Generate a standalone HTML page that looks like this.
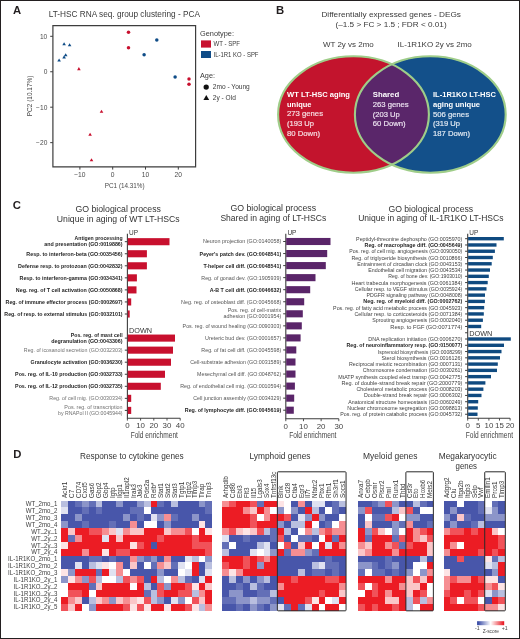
<!DOCTYPE html>
<html><head><meta charset="utf-8"><title>Figure</title>
<style>
html,body{margin:0;padding:0;background:#fff;}
svg{display:block;will-change:transform;}
svg text{font-family:"Liberation Sans", sans-serif;}
</style></head>
<body>
<svg width="520" height="639" viewBox="0 0 520 639" fill="#3a3a3a">
<rect x="0.5" y="0.5" width="519" height="638" fill="#fff" stroke="#231f20" stroke-width="1"/>
<text x="12.90" y="14.20" font-size="11.3" font-weight="bold" fill="#231f20">A</text>
<text x="276.10" y="13.70" font-size="11.3" font-weight="bold" fill="#231f20">B</text>
<text x="12.80" y="209.40" font-size="11.3" font-weight="bold" fill="#231f20">C</text>
<text x="13.20" y="458.20" font-size="11.3" font-weight="bold" fill="#231f20">D</text>
<text x="48.70" y="16.90" font-size="8.2" textLength="151.30" lengthAdjust="spacingAndGlyphs">LT-HSC RNA seq. group clustering - PCA</text>
<path d="M52.9 25.7 H195.6 V166.9 H52.9 Z" fill="none" stroke="#3d3d3d" stroke-width="1.2"/>
<line x1="50.2" y1="36.30" x2="52.9" y2="36.30" stroke="#3d3d3d" stroke-width="1"/>
<text x="47.30" y="38.70" font-size="6.6" text-anchor="end" fill="#4a4a4a" transform-origin="0 0">10</text>
<line x1="50.2" y1="71.75" x2="52.9" y2="71.75" stroke="#3d3d3d" stroke-width="1"/>
<text x="47.30" y="74.15" font-size="6.6" text-anchor="end" fill="#4a4a4a" transform-origin="0 0">0</text>
<line x1="50.2" y1="107.20" x2="52.9" y2="107.20" stroke="#3d3d3d" stroke-width="1"/>
<text x="47.30" y="109.60" font-size="6.6" text-anchor="end" fill="#4a4a4a" transform-origin="0 0">−10</text>
<line x1="50.2" y1="142.65" x2="52.9" y2="142.65" stroke="#3d3d3d" stroke-width="1"/>
<text x="47.30" y="145.05" font-size="6.6" text-anchor="end" fill="#4a4a4a" transform-origin="0 0">−20</text>
<line x1="79.90" y1="166.9" x2="79.90" y2="169.6" stroke="#3d3d3d" stroke-width="1"/>
<text x="79.90" y="177.20" font-size="6.7" text-anchor="middle" fill="#4a4a4a">−10</text>
<line x1="112.70" y1="166.9" x2="112.70" y2="169.6" stroke="#3d3d3d" stroke-width="1"/>
<text x="112.70" y="177.20" font-size="6.7" text-anchor="middle" fill="#4a4a4a">0</text>
<line x1="145.50" y1="166.9" x2="145.50" y2="169.6" stroke="#3d3d3d" stroke-width="1"/>
<text x="145.50" y="177.20" font-size="6.7" text-anchor="middle" fill="#4a4a4a">10</text>
<line x1="178.30" y1="166.9" x2="178.30" y2="169.6" stroke="#3d3d3d" stroke-width="1"/>
<text x="178.30" y="177.20" font-size="6.7" text-anchor="middle" fill="#4a4a4a">20</text>
<text x="124.70" y="187.70" font-size="7.1" text-anchor="middle" fill="#4a4a4a" textLength="39.80" lengthAdjust="spacingAndGlyphs">PC1 (14.31%)</text>
<text x="0" y="0" font-size="7.1" fill="#4a4a4a" text-anchor="middle" textLength="40.6" lengthAdjust="spacingAndGlyphs" transform="translate(32.2 95.9) rotate(-90)">PC2 (10.17%)</text>
<path d="M62.30 45.27 L65.90 45.27 L64.10 42.13 Z" fill="#0f4c87"/>
<path d="M67.80 46.27 L71.40 46.27 L69.60 43.13 Z" fill="#0f4c87"/>
<path d="M63.90 56.37 L67.50 56.37 L65.70 53.23 Z" fill="#0f4c87"/>
<path d="M62.30 58.47 L65.90 58.47 L64.10 55.33 Z" fill="#0f4c87"/>
<path d="M57.30 61.57 L60.90 61.57 L59.10 58.43 Z" fill="#0f4c87"/>
<path d="M77.10 70.17 L80.70 70.17 L78.90 67.03 Z" fill="#c8102e"/>
<path d="M99.70 112.77 L103.30 112.77 L101.50 109.63 Z" fill="#c8102e"/>
<path d="M88.30 135.77 L91.90 135.77 L90.10 132.63 Z" fill="#c8102e"/>
<path d="M89.70 161.37 L93.30 161.37 L91.50 158.23 Z" fill="#c8102e"/>
<circle cx="128.50" cy="32.20" r="1.75" fill="#c8102e"/>
<circle cx="128.50" cy="47.70" r="1.75" fill="#c8102e"/>
<circle cx="189.00" cy="78.90" r="1.75" fill="#c8102e"/>
<circle cx="189.00" cy="84.20" r="1.75" fill="#c8102e"/>
<circle cx="156.80" cy="39.90" r="1.75" fill="#0f4c87"/>
<circle cx="144.10" cy="54.80" r="1.75" fill="#0f4c87"/>
<circle cx="175.10" cy="77.00" r="1.75" fill="#0f4c87"/>
<text x="200.00" y="35.60" font-size="6.6" textLength="34.00" lengthAdjust="spacingAndGlyphs">Genotype:</text>
<rect x="201.0" y="40.4" width="10" height="7.2" fill="#c8102e"/>
<rect x="201.0" y="51.0" width="10" height="7.0" fill="#0f4c87"/>
<text x="213.50" y="46.30" font-size="6.3" textLength="26.50" lengthAdjust="spacingAndGlyphs">WT - SPF</text>
<text x="213.50" y="57.00" font-size="6.3" textLength="45.00" lengthAdjust="spacingAndGlyphs">IL-1R1 KO - SPF</text>
<text x="200.00" y="78.40" font-size="6.6" textLength="15.00" lengthAdjust="spacingAndGlyphs">Age:</text>
<circle cx="206.2" cy="87.1" r="2.65" fill="#111"/>
<text x="212.80" y="88.80" font-size="6.3" textLength="37.00" lengthAdjust="spacingAndGlyphs">2mo - Young</text>
<path d="M203.40 99.92 L209.20 99.92 L206.30 94.88 Z" fill="#111"/>
<text x="212.80" y="99.60" font-size="6.3" textLength="23.00" lengthAdjust="spacingAndGlyphs">2y - Old</text>
<text x="321.40" y="17.20" font-size="7.7" textLength="139.60" lengthAdjust="spacingAndGlyphs">Differentially expressed genes - DEGs</text>
<text x="335.50" y="26.80" font-size="7.7" textLength="111.10" lengthAdjust="spacingAndGlyphs">(–1.5 &gt; FC &gt; 1.5 ; FDR &lt; 0.01)</text>
<text x="323.00" y="47.20" font-size="7.7" textLength="50.70" lengthAdjust="spacingAndGlyphs">WT 2y vs 2mo</text>
<text x="397.60" y="47.20" font-size="7.7" textLength="74.20" lengthAdjust="spacingAndGlyphs">IL-1R1KO 2y vs 2mo</text>
<defs><clipPath id="cr"><ellipse cx="353.5" cy="114.5" rx="75.4" ry="58.2" /></clipPath></defs>
<ellipse cx="353.5" cy="114.5" rx="75.4" ry="58.2" fill="#c3142d"/>
<ellipse cx="430.3" cy="114.5" rx="75.4" ry="58.2" fill="#13508a"/>
<ellipse cx="430.3" cy="114.5" rx="75.4" ry="58.2" fill="#5a266a" clip-path="url(#cr)"/>
<ellipse cx="353.5" cy="114.5" rx="75.4" ry="58.2" fill="none" stroke="#9fcd89" stroke-width="2.1"/>
<ellipse cx="430.3" cy="114.5" rx="75.4" ry="58.2" fill="none" stroke="#9fcd89" stroke-width="2.1"/>
<text x="287.00" y="96.90" font-size="7.9" font-weight="bold" fill="#fff" textLength="63.00" lengthAdjust="spacingAndGlyphs">WT LT-HSC aging</text>
<text x="287.00" y="107.10" font-size="7.9" font-weight="bold" fill="#fff" textLength="24.50" lengthAdjust="spacingAndGlyphs">unique</text>
<text x="287.00" y="116.40" font-size="7.9" fill="#f7e0e4" textLength="36.00" lengthAdjust="spacingAndGlyphs" stroke="#f7e0e4" stroke-width="0.18">273 genes</text>
<text x="287.00" y="126.20" font-size="7.9" fill="#f7e0e4" textLength="27.00" lengthAdjust="spacingAndGlyphs" stroke="#f7e0e4" stroke-width="0.18">(193 Up</text>
<text x="287.00" y="135.60" font-size="7.9" fill="#f7e0e4" textLength="33.00" lengthAdjust="spacingAndGlyphs" stroke="#f7e0e4" stroke-width="0.18">80 Down)</text>
<text x="372.70" y="96.70" font-size="7.9" font-weight="bold" fill="#fff" textLength="26.50" lengthAdjust="spacingAndGlyphs">Shared</text>
<text x="372.70" y="107.10" font-size="7.9" fill="#ece2f0" textLength="36.00" lengthAdjust="spacingAndGlyphs" stroke="#ece2f0" stroke-width="0.18">263 genes</text>
<text x="372.70" y="116.60" font-size="7.9" fill="#ece2f0" textLength="27.00" lengthAdjust="spacingAndGlyphs" stroke="#ece2f0" stroke-width="0.18">(203 Up</text>
<text x="372.70" y="126.00" font-size="7.9" fill="#ece2f0" textLength="33.00" lengthAdjust="spacingAndGlyphs" stroke="#ece2f0" stroke-width="0.18">60 Down)</text>
<text x="433.00" y="96.90" font-size="7.9" font-weight="bold" fill="#fff" textLength="63.00" lengthAdjust="spacingAndGlyphs">IL-1R1KO LT-HSC</text>
<text x="433.00" y="106.80" font-size="7.9" font-weight="bold" fill="#fff" textLength="47.00" lengthAdjust="spacingAndGlyphs">aging unique</text>
<text x="433.00" y="116.50" font-size="7.9" fill="#e2eaf3" textLength="36.00" lengthAdjust="spacingAndGlyphs" stroke="#e2eaf3" stroke-width="0.18">506 genes</text>
<text x="433.00" y="126.20" font-size="7.9" fill="#e2eaf3" textLength="27.00" lengthAdjust="spacingAndGlyphs" stroke="#e2eaf3" stroke-width="0.18">(319 Up</text>
<text x="433.00" y="135.80" font-size="7.9" fill="#e2eaf3" textLength="37.00" lengthAdjust="spacingAndGlyphs" stroke="#e2eaf3" stroke-width="0.18">187 Down)</text>
<text x="118.20" y="211.60" font-size="8.2" text-anchor="middle" fill="#333" textLength="85.60" lengthAdjust="spacingAndGlyphs">GO biological process</text>
<text x="118.20" y="222.00" font-size="8.2" text-anchor="middle" fill="#333" textLength="122.80" lengthAdjust="spacingAndGlyphs">Unique in aging of WT LT-HSCs</text>
<text x="273.30" y="211.00" font-size="8.2" text-anchor="middle" fill="#333" textLength="85.70" lengthAdjust="spacingAndGlyphs">GO biological process</text>
<text x="273.30" y="221.30" font-size="8.2" text-anchor="middle" fill="#333" textLength="105.80" lengthAdjust="spacingAndGlyphs">Shared in aging of LT-HSCs</text>
<text x="430.80" y="211.60" font-size="8.2" text-anchor="middle" fill="#333" textLength="84.80" lengthAdjust="spacingAndGlyphs">GO biological process</text>
<text x="430.80" y="221.30" font-size="8.2" text-anchor="middle" fill="#333" textLength="145.30" lengthAdjust="spacingAndGlyphs">Unique in aging of IL-1R1KO LT-HSCs</text>
<line x1="127.40" y1="233.80" x2="127.40" y2="418.20" stroke="#3d3d3d" stroke-width="1.1"/>
<line x1="126.90" y1="418.20" x2="180.20" y2="418.20" stroke="#3d3d3d" stroke-width="1.1"/>
<line x1="127.40" y1="418.20" x2="127.40" y2="420.60" stroke="#3d3d3d" stroke-width="0.9"/>
<line x1="140.60" y1="418.20" x2="140.60" y2="420.60" stroke="#3d3d3d" stroke-width="0.9"/>
<line x1="153.80" y1="418.20" x2="153.80" y2="420.60" stroke="#3d3d3d" stroke-width="0.9"/>
<line x1="167.00" y1="418.20" x2="167.00" y2="420.60" stroke="#3d3d3d" stroke-width="0.9"/>
<line x1="180.20" y1="418.20" x2="180.20" y2="420.60" stroke="#3d3d3d" stroke-width="0.9"/>
<text x="127.40" y="428.40" font-size="7.9" text-anchor="middle" fill="#444">0</text>
<text x="140.60" y="428.40" font-size="7.9" text-anchor="middle" fill="#444">10</text>
<text x="153.80" y="428.40" font-size="7.9" text-anchor="middle" fill="#444">20</text>
<text x="167.00" y="428.40" font-size="7.9" text-anchor="middle" fill="#444">30</text>
<text x="180.20" y="428.40" font-size="7.9" text-anchor="middle" fill="#444">40</text>
<text x="154.30" y="438.10" font-size="8.5" text-anchor="middle" fill="#444" textLength="47.20" lengthAdjust="spacingAndGlyphs">Fold enrichment</text>
<text x="129.00" y="235.20" font-size="7.0" fill="#333" textLength="9.00" lengthAdjust="spacingAndGlyphs">UP</text>
<text x="129.00" y="332.60" font-size="7.2" fill="#333" textLength="23.00" lengthAdjust="spacingAndGlyphs">DOWN</text>
<line x1="124.80" y1="241.70" x2="127.40" y2="241.70" stroke="#3d3d3d" stroke-width="1.0"/>
<rect x="127.80" y="238.15" width="41.70" height="7.10" fill="#c8102e"/>
<text x="122.60" y="240.22" font-size="5.6" text-anchor="end" font-weight="bold" fill="#1e1e1e" textLength="48.00" lengthAdjust="spacingAndGlyphs">Antigen processing</text>
<text x="122.60" y="246.22" font-size="5.6" text-anchor="end" font-weight="bold" fill="#1e1e1e" textLength="78.25" lengthAdjust="spacingAndGlyphs">and presentation (GO:0019886)</text>
<line x1="124.80" y1="253.75" x2="127.40" y2="253.75" stroke="#3d3d3d" stroke-width="1.0"/>
<rect x="127.80" y="250.20" width="19.10" height="7.10" fill="#c8102e"/>
<text x="122.60" y="255.72" font-size="5.6" text-anchor="end" font-weight="bold" fill="#1e1e1e" textLength="96.25" lengthAdjust="spacingAndGlyphs">Resp. to interferon-beta (GO:0035456)</text>
<line x1="124.80" y1="265.80" x2="127.40" y2="265.80" stroke="#3d3d3d" stroke-width="1.0"/>
<rect x="127.80" y="262.25" width="19.10" height="7.10" fill="#c8102e"/>
<text x="122.60" y="267.77" font-size="5.6" text-anchor="end" font-weight="bold" fill="#1e1e1e" textLength="104.50" lengthAdjust="spacingAndGlyphs">Defense resp. to protozoan (GO:0042832)</text>
<line x1="124.80" y1="277.85" x2="127.40" y2="277.85" stroke="#3d3d3d" stroke-width="1.0"/>
<rect x="127.80" y="274.30" width="9.10" height="7.10" fill="#c8102e"/>
<text x="122.60" y="279.82" font-size="5.6" text-anchor="end" font-weight="bold" fill="#1e1e1e" textLength="103.00" lengthAdjust="spacingAndGlyphs">Resp. to interferon-gamma (GO:0034341)</text>
<line x1="124.80" y1="289.90" x2="127.40" y2="289.90" stroke="#3d3d3d" stroke-width="1.0"/>
<rect x="127.80" y="286.35" width="8.70" height="7.10" fill="#c8102e"/>
<text x="122.60" y="291.87" font-size="5.6" text-anchor="end" font-weight="bold" fill="#1e1e1e" textLength="106.75" lengthAdjust="spacingAndGlyphs">Neg. reg. of T cell activation (GO:0050868)</text>
<line x1="124.80" y1="301.95" x2="127.40" y2="301.95" stroke="#3d3d3d" stroke-width="1.0"/>
<rect x="127.80" y="298.40" width="3.40" height="7.10" fill="#c8102e"/>
<text x="122.60" y="303.92" font-size="5.6" text-anchor="end" font-weight="bold" fill="#1e1e1e" textLength="117.00" lengthAdjust="spacingAndGlyphs">Reg. of immune effector process (GO:0002697)</text>
<line x1="124.80" y1="314.00" x2="127.40" y2="314.00" stroke="#3d3d3d" stroke-width="1.0"/>
<rect x="127.80" y="310.45" width="1.90" height="7.10" fill="#c8102e"/>
<text x="122.60" y="315.97" font-size="5.6" text-anchor="end" font-weight="bold" fill="#1e1e1e" textLength="118.25" lengthAdjust="spacingAndGlyphs">Reg. of resp. to external stimulus (GO:0032101)</text>
<line x1="124.80" y1="338.10" x2="127.40" y2="338.10" stroke="#3d3d3d" stroke-width="1.0"/>
<rect x="127.80" y="334.55" width="47.20" height="7.10" fill="#c8102e"/>
<text x="122.60" y="336.62" font-size="5.6" text-anchor="end" font-weight="bold" fill="#1e1e1e" textLength="51.75" lengthAdjust="spacingAndGlyphs">Pos. reg. of mast cell</text>
<text x="122.60" y="342.62" font-size="5.6" text-anchor="end" font-weight="bold" fill="#1e1e1e" textLength="71.25" lengthAdjust="spacingAndGlyphs">degranulation (GO:0043306)</text>
<line x1="124.80" y1="350.15" x2="127.40" y2="350.15" stroke="#3d3d3d" stroke-width="1.0"/>
<rect x="127.80" y="346.60" width="45.20" height="7.10" fill="#c8102e"/>
<text x="122.60" y="352.12" font-size="5.6" text-anchor="end" fill="#707070" textLength="98.75" lengthAdjust="spacingAndGlyphs">Reg. of icosanoid secretion (GO:0032303)</text>
<line x1="124.80" y1="362.20" x2="127.40" y2="362.20" stroke="#3d3d3d" stroke-width="1.0"/>
<rect x="127.80" y="358.65" width="43.20" height="7.10" fill="#c8102e"/>
<text x="122.60" y="364.17" font-size="5.6" text-anchor="end" font-weight="bold" fill="#1e1e1e" textLength="92.00" lengthAdjust="spacingAndGlyphs">Granulocyte activation (GO:0036230)</text>
<line x1="124.80" y1="374.25" x2="127.40" y2="374.25" stroke="#3d3d3d" stroke-width="1.0"/>
<rect x="127.80" y="370.70" width="37.20" height="7.10" fill="#c8102e"/>
<text x="122.60" y="376.22" font-size="5.6" text-anchor="end" font-weight="bold" fill="#1e1e1e" textLength="107.50" lengthAdjust="spacingAndGlyphs">Pos. reg. of IL-10 production (GO:0032733)</text>
<line x1="124.80" y1="386.30" x2="127.40" y2="386.30" stroke="#3d3d3d" stroke-width="1.0"/>
<rect x="127.80" y="382.75" width="33.00" height="7.10" fill="#c8102e"/>
<text x="122.60" y="388.27" font-size="5.6" text-anchor="end" font-weight="bold" fill="#1e1e1e" textLength="107.50" lengthAdjust="spacingAndGlyphs">Pos. reg. of IL-12 production (GO:0032735)</text>
<line x1="124.80" y1="398.35" x2="127.40" y2="398.35" stroke="#3d3d3d" stroke-width="1.0"/>
<rect x="127.80" y="394.80" width="3.40" height="7.10" fill="#c8102e"/>
<text x="122.60" y="400.32" font-size="5.6" text-anchor="end" fill="#707070" textLength="73.25" lengthAdjust="spacingAndGlyphs">Reg. of cell mig. (GO:0030334)</text>
<line x1="124.80" y1="410.40" x2="127.40" y2="410.40" stroke="#3d3d3d" stroke-width="1.0"/>
<rect x="127.80" y="406.85" width="3.40" height="7.10" fill="#c8102e"/>
<text x="122.60" y="408.92" font-size="5.6" text-anchor="end" fill="#707070" textLength="58.25" lengthAdjust="spacingAndGlyphs">Pos. reg. of transcription</text>
<text x="122.60" y="414.92" font-size="5.6" text-anchor="end" fill="#707070" textLength="64.50" lengthAdjust="spacingAndGlyphs">by RNAPol II (GO:0045944)</text>
<line x1="285.80" y1="233.80" x2="285.80" y2="418.80" stroke="#3d3d3d" stroke-width="1.1"/>
<line x1="285.30" y1="418.80" x2="338.81" y2="418.80" stroke="#3d3d3d" stroke-width="1.1"/>
<line x1="285.80" y1="418.80" x2="285.80" y2="421.20" stroke="#3d3d3d" stroke-width="0.9"/>
<line x1="303.47" y1="418.80" x2="303.47" y2="421.20" stroke="#3d3d3d" stroke-width="0.9"/>
<line x1="321.14" y1="418.80" x2="321.14" y2="421.20" stroke="#3d3d3d" stroke-width="0.9"/>
<line x1="338.81" y1="418.80" x2="338.81" y2="421.20" stroke="#3d3d3d" stroke-width="0.9"/>
<text x="285.80" y="429.00" font-size="7.9" text-anchor="middle" fill="#444">0</text>
<text x="303.47" y="429.00" font-size="7.9" text-anchor="middle" fill="#444">10</text>
<text x="321.14" y="429.00" font-size="7.9" text-anchor="middle" fill="#444">20</text>
<text x="338.81" y="429.00" font-size="7.9" text-anchor="middle" fill="#444">30</text>
<text x="312.81" y="438.10" font-size="8.5" text-anchor="middle" fill="#444" textLength="47.20" lengthAdjust="spacingAndGlyphs">Fold enrichment</text>
<text x="287.40" y="235.20" font-size="7.0" fill="#333" textLength="9.00" lengthAdjust="spacingAndGlyphs">UP</text>
<line x1="283.20" y1="241.50" x2="285.80" y2="241.50" stroke="#3d3d3d" stroke-width="1.0"/>
<rect x="286.20" y="237.95" width="44.30" height="7.10" fill="#5a2569"/>
<text x="281.20" y="243.47" font-size="5.6" text-anchor="end" fill="#555555" textLength="78.30" lengthAdjust="spacingAndGlyphs">Neuron projection (GO:0140058)</text>
<line x1="283.20" y1="253.55" x2="285.80" y2="253.55" stroke="#3d3d3d" stroke-width="1.0"/>
<rect x="286.20" y="250.00" width="41.00" height="7.10" fill="#5a2569"/>
<text x="281.20" y="255.52" font-size="5.6" text-anchor="end" font-weight="bold" fill="#1e1e1e" textLength="81.60" lengthAdjust="spacingAndGlyphs">Peyer's patch dev. (GO:0048541)</text>
<line x1="283.20" y1="265.60" x2="285.80" y2="265.60" stroke="#3d3d3d" stroke-width="1.0"/>
<rect x="286.20" y="262.05" width="39.60" height="7.10" fill="#5a2569"/>
<text x="281.20" y="267.57" font-size="5.6" text-anchor="end" font-weight="bold" fill="#1e1e1e" textLength="77.80" lengthAdjust="spacingAndGlyphs">T-helper cell diff. (GO:0048541)</text>
<line x1="283.20" y1="277.65" x2="285.80" y2="277.65" stroke="#3d3d3d" stroke-width="1.0"/>
<rect x="286.20" y="274.10" width="29.30" height="7.10" fill="#5a2569"/>
<text x="281.20" y="279.62" font-size="5.6" text-anchor="end" fill="#555555" textLength="79.90" lengthAdjust="spacingAndGlyphs">Reg. of gonad dev. (GO:1905939)</text>
<line x1="283.20" y1="289.70" x2="285.80" y2="289.70" stroke="#3d3d3d" stroke-width="1.0"/>
<rect x="286.20" y="286.15" width="24.00" height="7.10" fill="#5a2569"/>
<text x="281.20" y="291.67" font-size="5.6" text-anchor="end" font-weight="bold" fill="#1e1e1e" textLength="71.50" lengthAdjust="spacingAndGlyphs">A-B T cell diff. (GO:0046632)</text>
<line x1="283.20" y1="301.75" x2="285.80" y2="301.75" stroke="#3d3d3d" stroke-width="1.0"/>
<rect x="286.20" y="298.20" width="18.00" height="7.10" fill="#5a2569"/>
<text x="281.20" y="303.72" font-size="5.6" text-anchor="end" fill="#555555" textLength="100.10" lengthAdjust="spacingAndGlyphs">Neg. reg. of osteoblast diff. (GO:0045668)</text>
<line x1="283.20" y1="313.80" x2="285.80" y2="313.80" stroke="#3d3d3d" stroke-width="1.0"/>
<rect x="286.20" y="310.25" width="16.60" height="7.10" fill="#5a2569"/>
<text x="281.20" y="312.32" font-size="5.6" text-anchor="end" fill="#555555" textLength="53.50" lengthAdjust="spacingAndGlyphs">Pos. reg. of cell-matrix</text>
<text x="281.20" y="318.32" font-size="5.6" text-anchor="end" fill="#555555" textLength="57.70" lengthAdjust="spacingAndGlyphs">adhesion (GO:0001954)</text>
<line x1="283.20" y1="325.85" x2="285.80" y2="325.85" stroke="#3d3d3d" stroke-width="1.0"/>
<rect x="286.20" y="322.30" width="15.60" height="7.10" fill="#5a2569"/>
<text x="281.20" y="327.82" font-size="5.6" text-anchor="end" fill="#555555" textLength="98.60" lengthAdjust="spacingAndGlyphs">Pos. reg. of wound healing (GO:0090303)</text>
<line x1="283.20" y1="337.90" x2="285.80" y2="337.90" stroke="#3d3d3d" stroke-width="1.0"/>
<rect x="286.20" y="334.35" width="14.40" height="7.10" fill="#5a2569"/>
<text x="281.20" y="339.87" font-size="5.6" text-anchor="end" fill="#555555" textLength="76.10" lengthAdjust="spacingAndGlyphs">Ureteric bud dev. (GO:0001657)</text>
<line x1="283.20" y1="349.95" x2="285.80" y2="349.95" stroke="#3d3d3d" stroke-width="1.0"/>
<rect x="286.20" y="346.40" width="10.10" height="7.10" fill="#5a2569"/>
<text x="281.20" y="351.92" font-size="5.6" text-anchor="end" fill="#555555" textLength="79.90" lengthAdjust="spacingAndGlyphs">Reg. of fat cell diff. (GO:0045598)</text>
<line x1="283.20" y1="362.00" x2="285.80" y2="362.00" stroke="#3d3d3d" stroke-width="1.0"/>
<rect x="286.20" y="358.45" width="9.30" height="7.10" fill="#5a2569"/>
<text x="281.20" y="363.97" font-size="5.6" text-anchor="end" fill="#555555" textLength="90.90" lengthAdjust="spacingAndGlyphs">Cell-substrate adhesion (GO:0031589)</text>
<line x1="283.20" y1="374.05" x2="285.80" y2="374.05" stroke="#3d3d3d" stroke-width="1.0"/>
<rect x="286.20" y="370.50" width="9.30" height="7.10" fill="#5a2569"/>
<text x="281.20" y="376.02" font-size="5.6" text-anchor="end" fill="#555555" textLength="84.10" lengthAdjust="spacingAndGlyphs">Mesechymal cell diff. (GO:0048762)</text>
<line x1="283.20" y1="386.10" x2="285.80" y2="386.10" stroke="#3d3d3d" stroke-width="1.0"/>
<rect x="286.20" y="382.55" width="8.70" height="7.10" fill="#5a2569"/>
<text x="281.20" y="388.07" font-size="5.6" text-anchor="end" fill="#555555" textLength="101.00" lengthAdjust="spacingAndGlyphs">Reg. of endothelial cell mig. (GO:0010594)</text>
<line x1="283.20" y1="398.15" x2="285.80" y2="398.15" stroke="#3d3d3d" stroke-width="1.0"/>
<rect x="286.20" y="394.60" width="8.00" height="7.10" fill="#5a2569"/>
<text x="281.20" y="400.12" font-size="5.6" text-anchor="end" fill="#555555" textLength="88.00" lengthAdjust="spacingAndGlyphs">Cell junction assembly (GO:0034329)</text>
<line x1="283.20" y1="410.20" x2="285.80" y2="410.20" stroke="#3d3d3d" stroke-width="1.0"/>
<rect x="286.20" y="406.65" width="7.60" height="7.10" fill="#5a2569"/>
<text x="281.20" y="412.17" font-size="5.6" text-anchor="end" font-weight="bold" fill="#1e1e1e" textLength="96.40" lengthAdjust="spacingAndGlyphs">Reg. of lymphocyte diff. (GO:0045619)</text>
<line x1="467.70" y1="233.80" x2="467.70" y2="418.20" stroke="#3d3d3d" stroke-width="1.1"/>
<line x1="467.20" y1="418.20" x2="510.10" y2="418.20" stroke="#3d3d3d" stroke-width="1.1"/>
<line x1="467.70" y1="418.20" x2="467.70" y2="420.60" stroke="#3d3d3d" stroke-width="0.9"/>
<line x1="478.30" y1="418.20" x2="478.30" y2="420.60" stroke="#3d3d3d" stroke-width="0.9"/>
<line x1="488.90" y1="418.20" x2="488.90" y2="420.60" stroke="#3d3d3d" stroke-width="0.9"/>
<line x1="499.50" y1="418.20" x2="499.50" y2="420.60" stroke="#3d3d3d" stroke-width="0.9"/>
<line x1="510.10" y1="418.20" x2="510.10" y2="420.60" stroke="#3d3d3d" stroke-width="0.9"/>
<text x="467.70" y="428.40" font-size="7.9" text-anchor="middle" fill="#444">0</text>
<text x="478.30" y="428.40" font-size="7.9" text-anchor="middle" fill="#444">5</text>
<text x="488.90" y="428.40" font-size="7.9" text-anchor="middle" fill="#444">10</text>
<text x="499.50" y="428.40" font-size="7.9" text-anchor="middle" fill="#444">15</text>
<text x="510.10" y="428.40" font-size="7.9" text-anchor="middle" fill="#444">20</text>
<text x="489.40" y="438.10" font-size="8.5" text-anchor="middle" fill="#444" textLength="47.20" lengthAdjust="spacingAndGlyphs">Fold enrichment</text>
<text x="469.30" y="235.20" font-size="7.0" fill="#333" textLength="9.00" lengthAdjust="spacingAndGlyphs">UP</text>
<text x="469.30" y="335.60" font-size="7.2" fill="#333" textLength="23.00" lengthAdjust="spacingAndGlyphs">DOWN</text>
<line x1="465.10" y1="238.70" x2="467.70" y2="238.70" stroke="#3d3d3d" stroke-width="1.0"/>
<rect x="468.10" y="237.00" width="35.70" height="3.40" fill="#0f4a80"/>
<text x="462.30" y="240.74" font-size="5.8" text-anchor="end" fill="#404040" textLength="106.20" lengthAdjust="spacingAndGlyphs">Peptidyl-threonine dephospho (GO:0035970)</text>
<line x1="465.10" y1="244.97" x2="467.70" y2="244.97" stroke="#3d3d3d" stroke-width="1.0"/>
<rect x="468.10" y="243.27" width="28.40" height="3.40" fill="#0f4a80"/>
<text x="462.30" y="247.01" font-size="5.8" text-anchor="end" font-weight="bold" fill="#1e1e1e" textLength="97.70" lengthAdjust="spacingAndGlyphs">Reg. of macrophage diff. (GO:0045649)</text>
<line x1="465.10" y1="251.24" x2="467.70" y2="251.24" stroke="#3d3d3d" stroke-width="1.0"/>
<rect x="468.10" y="249.54" width="26.80" height="3.40" fill="#0f4a80"/>
<text x="462.30" y="253.28" font-size="5.8" text-anchor="end" fill="#404040" textLength="113.00" lengthAdjust="spacingAndGlyphs">Pos. reg. of cell mig. angiogenesis (GO:0090050)</text>
<line x1="465.10" y1="257.51" x2="467.70" y2="257.51" stroke="#3d3d3d" stroke-width="1.0"/>
<rect x="468.10" y="255.81" width="24.70" height="3.40" fill="#0f4a80"/>
<text x="462.30" y="259.55" font-size="5.8" text-anchor="end" fill="#404040" textLength="110.80" lengthAdjust="spacingAndGlyphs">Reg. of triglyceride biosynthesis (GO:0010866)</text>
<line x1="465.10" y1="263.78" x2="467.70" y2="263.78" stroke="#3d3d3d" stroke-width="1.0"/>
<rect x="468.10" y="262.08" width="23.60" height="3.40" fill="#0f4a80"/>
<text x="462.30" y="265.82" font-size="5.8" text-anchor="end" fill="#404040" textLength="105.00" lengthAdjust="spacingAndGlyphs">Entrainment of circadian clock (GO:0043153)</text>
<line x1="465.10" y1="270.05" x2="467.70" y2="270.05" stroke="#3d3d3d" stroke-width="1.0"/>
<rect x="468.10" y="268.35" width="21.90" height="3.40" fill="#0f4a80"/>
<text x="462.30" y="272.09" font-size="5.8" text-anchor="end" fill="#404040" textLength="94.00" lengthAdjust="spacingAndGlyphs">Endothelial cell migration (GO:0043534)</text>
<line x1="465.10" y1="276.32" x2="467.70" y2="276.32" stroke="#3d3d3d" stroke-width="1.0"/>
<rect x="468.10" y="274.62" width="20.70" height="3.40" fill="#0f4a80"/>
<text x="462.30" y="278.36" font-size="5.8" text-anchor="end" fill="#404040" textLength="74.00" lengthAdjust="spacingAndGlyphs">Reg. of bone dev. (GO:1903010)</text>
<line x1="465.10" y1="282.59" x2="467.70" y2="282.59" stroke="#3d3d3d" stroke-width="1.0"/>
<rect x="468.10" y="280.89" width="19.60" height="3.40" fill="#0f4a80"/>
<text x="462.30" y="284.63" font-size="5.8" text-anchor="end" fill="#404040" textLength="110.80" lengthAdjust="spacingAndGlyphs">Heart trabecula morphogenesis (GO:0061384)</text>
<line x1="465.10" y1="288.86" x2="467.70" y2="288.86" stroke="#3d3d3d" stroke-width="1.0"/>
<rect x="468.10" y="287.16" width="18.40" height="3.40" fill="#0f4a80"/>
<text x="462.30" y="290.90" font-size="5.8" text-anchor="end" fill="#404040" textLength="107.50" lengthAdjust="spacingAndGlyphs">Cellular resp. to VEGF stimulus (GO:0035924)</text>
<line x1="465.10" y1="295.13" x2="467.70" y2="295.13" stroke="#3d3d3d" stroke-width="1.0"/>
<rect x="468.10" y="293.43" width="16.90" height="3.40" fill="#0f4a80"/>
<text x="462.30" y="297.17" font-size="5.8" text-anchor="end" fill="#404040" textLength="95.75" lengthAdjust="spacingAndGlyphs">PDGFR signaling pathway (GO:0048008)</text>
<line x1="465.10" y1="301.40" x2="467.70" y2="301.40" stroke="#3d3d3d" stroke-width="1.0"/>
<rect x="468.10" y="299.70" width="16.80" height="3.40" fill="#0f4a80"/>
<text x="462.30" y="303.44" font-size="5.8" text-anchor="end" font-weight="bold" fill="#1e1e1e" textLength="99.00" lengthAdjust="spacingAndGlyphs">Neg. reg. of myeloid diff. (GO:0002762)</text>
<line x1="465.10" y1="307.67" x2="467.70" y2="307.67" stroke="#3d3d3d" stroke-width="1.0"/>
<rect x="468.10" y="305.97" width="16.10" height="3.40" fill="#0f4a80"/>
<text x="462.30" y="309.71" font-size="5.8" text-anchor="end" fill="#404040" textLength="129.20" lengthAdjust="spacingAndGlyphs">Pos. reg. of fatty acid metabolic process (GO:0045923)</text>
<line x1="465.10" y1="313.94" x2="467.70" y2="313.94" stroke="#3d3d3d" stroke-width="1.0"/>
<rect x="468.10" y="312.24" width="15.70" height="3.40" fill="#0f4a80"/>
<text x="462.30" y="315.98" font-size="5.8" text-anchor="end" fill="#404040" textLength="107.75" lengthAdjust="spacingAndGlyphs">Cellular resp. to corticosteroids (GO:0071384)</text>
<line x1="465.10" y1="320.21" x2="467.70" y2="320.21" stroke="#3d3d3d" stroke-width="1.0"/>
<rect x="468.10" y="318.51" width="14.80" height="3.40" fill="#0f4a80"/>
<text x="462.30" y="322.25" font-size="5.8" text-anchor="end" fill="#404040" textLength="90.00" lengthAdjust="spacingAndGlyphs">Sprouting angiogenesis (GO:0002040)</text>
<line x1="465.10" y1="326.48" x2="467.70" y2="326.48" stroke="#3d3d3d" stroke-width="1.0"/>
<rect x="468.10" y="324.78" width="13.10" height="3.40" fill="#0f4a80"/>
<text x="462.30" y="328.52" font-size="5.8" text-anchor="end" fill="#404040" textLength="72.00" lengthAdjust="spacingAndGlyphs">Resp. to FGF (GO:0071774)</text>
<line x1="465.10" y1="332.75" x2="467.70" y2="332.75" stroke="#3d3d3d" stroke-width="1.0"/>
<line x1="465.10" y1="339.02" x2="467.70" y2="339.02" stroke="#3d3d3d" stroke-width="1.0"/>
<rect x="468.10" y="337.32" width="42.70" height="3.40" fill="#0f4a80"/>
<text x="462.30" y="341.06" font-size="5.8" text-anchor="end" fill="#404040" textLength="94.00" lengthAdjust="spacingAndGlyphs">DNA replication initiation (GO:0006270)</text>
<line x1="465.10" y1="345.29" x2="467.70" y2="345.29" stroke="#3d3d3d" stroke-width="1.0"/>
<rect x="468.10" y="343.59" width="35.90" height="3.40" fill="#0f4a80"/>
<text x="462.30" y="347.33" font-size="5.8" text-anchor="end" font-weight="bold" fill="#1e1e1e" textLength="115.75" lengthAdjust="spacingAndGlyphs">Reg. of neuroinflammatory resp. (GO:0150077)</text>
<line x1="465.10" y1="351.56" x2="467.70" y2="351.56" stroke="#3d3d3d" stroke-width="1.0"/>
<rect x="468.10" y="349.86" width="33.40" height="3.40" fill="#0f4a80"/>
<text x="462.30" y="353.60" font-size="5.8" text-anchor="end" fill="#404040" textLength="84.50" lengthAdjust="spacingAndGlyphs">Isprenoid biosynthesis (GO:0008299)</text>
<line x1="465.10" y1="357.83" x2="467.70" y2="357.83" stroke="#3d3d3d" stroke-width="1.0"/>
<rect x="468.10" y="356.13" width="31.90" height="3.40" fill="#0f4a80"/>
<text x="462.30" y="359.87" font-size="5.8" text-anchor="end" fill="#404040" textLength="80.75" lengthAdjust="spacingAndGlyphs">Sterol biosynthesis (GO:0016126)</text>
<line x1="465.10" y1="364.10" x2="467.70" y2="364.10" stroke="#3d3d3d" stroke-width="1.0"/>
<rect x="468.10" y="362.40" width="29.70" height="3.40" fill="#0f4a80"/>
<text x="462.30" y="366.14" font-size="5.8" text-anchor="end" fill="#404040" textLength="113.25" lengthAdjust="spacingAndGlyphs">Reciprocal meiotic recombination (GO:0007131)</text>
<line x1="465.10" y1="370.37" x2="467.70" y2="370.37" stroke="#3d3d3d" stroke-width="1.0"/>
<rect x="468.10" y="368.67" width="28.90" height="3.40" fill="#0f4a80"/>
<text x="462.30" y="372.41" font-size="5.8" text-anchor="end" fill="#404040" textLength="99.50" lengthAdjust="spacingAndGlyphs">Chromosome condensation (GO:0030261)</text>
<line x1="465.10" y1="376.64" x2="467.70" y2="376.64" stroke="#3d3d3d" stroke-width="1.0"/>
<rect x="468.10" y="374.94" width="22.90" height="3.40" fill="#0f4a80"/>
<text x="462.30" y="378.68" font-size="5.8" text-anchor="end" fill="#404040" textLength="124.00" lengthAdjust="spacingAndGlyphs">MtATP synthesis coupled elect transp (GO:0042775)</text>
<line x1="465.10" y1="382.91" x2="467.70" y2="382.91" stroke="#3d3d3d" stroke-width="1.0"/>
<rect x="468.10" y="381.21" width="17.30" height="3.40" fill="#0f4a80"/>
<text x="462.30" y="384.95" font-size="5.8" text-anchor="end" fill="#404040" textLength="120.75" lengthAdjust="spacingAndGlyphs">Reg. of double-strand break repair (GO:2000779)</text>
<line x1="465.10" y1="389.18" x2="467.70" y2="389.18" stroke="#3d3d3d" stroke-width="1.0"/>
<rect x="468.10" y="387.48" width="15.30" height="3.40" fill="#0f4a80"/>
<text x="462.30" y="391.22" font-size="5.8" text-anchor="end" fill="#404040" textLength="105.75" lengthAdjust="spacingAndGlyphs">Cholesterol metabolic process (GO:0008203)</text>
<line x1="465.10" y1="395.45" x2="467.70" y2="395.45" stroke="#3d3d3d" stroke-width="1.0"/>
<rect x="468.10" y="393.75" width="13.40" height="3.40" fill="#0f4a80"/>
<text x="462.30" y="397.49" font-size="5.8" text-anchor="end" fill="#404040" textLength="98.25" lengthAdjust="spacingAndGlyphs">Double-strand break repair (GO:0006302)</text>
<line x1="465.10" y1="401.72" x2="467.70" y2="401.72" stroke="#3d3d3d" stroke-width="1.0"/>
<rect x="468.10" y="400.02" width="10.10" height="3.40" fill="#0f4a80"/>
<text x="462.30" y="403.76" font-size="5.8" text-anchor="end" fill="#404040" textLength="114.00" lengthAdjust="spacingAndGlyphs">Anatomical structure homeostasis (GO:0060249)</text>
<line x1="465.10" y1="407.99" x2="467.70" y2="407.99" stroke="#3d3d3d" stroke-width="1.0"/>
<rect x="468.10" y="406.29" width="9.70" height="3.40" fill="#0f4a80"/>
<text x="462.30" y="410.03" font-size="5.8" text-anchor="end" fill="#404040" textLength="115.00" lengthAdjust="spacingAndGlyphs">Nuclear chromosome segregation (GO:0098813)</text>
<line x1="465.10" y1="414.26" x2="467.70" y2="414.26" stroke="#3d3d3d" stroke-width="1.0"/>
<rect x="468.10" y="412.56" width="9.40" height="3.40" fill="#0f4a80"/>
<text x="462.30" y="416.30" font-size="5.8" text-anchor="end" fill="#404040" textLength="122.00" lengthAdjust="spacingAndGlyphs">Pos. reg. of protein catabolic process (GO:0045732)</text>
<text x="80.00" y="459.20" font-size="8.2" fill="#333" textLength="103.70" lengthAdjust="spacingAndGlyphs">Response to cytokine genes</text>
<text x="249.50" y="459.20" font-size="8.2" fill="#333" textLength="61.00" lengthAdjust="spacingAndGlyphs">Lymphoid genes</text>
<text x="363.00" y="459.20" font-size="8.2" fill="#333" textLength="54.50" lengthAdjust="spacingAndGlyphs">Myeloid genes</text>
<text x="438.70" y="459.20" font-size="8.2" fill="#333" textLength="57.90" lengthAdjust="spacingAndGlyphs">Megakaryocytic</text>
<text x="455.60" y="468.80" font-size="8.2" fill="#333" textLength="21.40" lengthAdjust="spacingAndGlyphs">genes</text>
<text x="57.3" y="506.29" font-size="6.3" text-anchor="end" fill="#3c3c3c" textLength="31.58" lengthAdjust="spacingAndGlyphs">WT<tspan dy="-1.3">_</tspan><tspan dy="1.3">2mo</tspan><tspan dy="-1.3">_</tspan><tspan dy="1.3">1</tspan></text>
<text x="57.3" y="513.15" font-size="6.3" text-anchor="end" fill="#3c3c3c" textLength="31.58" lengthAdjust="spacingAndGlyphs">WT<tspan dy="-1.3">_</tspan><tspan dy="1.3">2mo</tspan><tspan dy="-1.3">_</tspan><tspan dy="1.3">2</tspan></text>
<text x="57.3" y="520.02" font-size="6.3" text-anchor="end" fill="#3c3c3c" textLength="31.58" lengthAdjust="spacingAndGlyphs">WT<tspan dy="-1.3">_</tspan><tspan dy="1.3">2mo</tspan><tspan dy="-1.3">_</tspan><tspan dy="1.3">3</tspan></text>
<text x="57.3" y="526.89" font-size="6.3" text-anchor="end" fill="#3c3c3c" textLength="31.58" lengthAdjust="spacingAndGlyphs">WT<tspan dy="-1.3">_</tspan><tspan dy="1.3">2mo</tspan><tspan dy="-1.3">_</tspan><tspan dy="1.3">4</tspan></text>
<text x="57.3" y="533.76" font-size="6.3" text-anchor="end" fill="#3c3c3c" textLength="26.15" lengthAdjust="spacingAndGlyphs">WT<tspan dy="-1.3">_</tspan><tspan dy="1.3">2y</tspan><tspan dy="-1.3">_</tspan><tspan dy="1.3">1</tspan></text>
<text x="57.3" y="540.63" font-size="6.3" text-anchor="end" fill="#3c3c3c" textLength="26.15" lengthAdjust="spacingAndGlyphs">WT<tspan dy="-1.3">_</tspan><tspan dy="1.3">2y</tspan><tspan dy="-1.3">_</tspan><tspan dy="1.3">2</tspan></text>
<text x="57.3" y="547.50" font-size="6.3" text-anchor="end" fill="#3c3c3c" textLength="26.15" lengthAdjust="spacingAndGlyphs">WT<tspan dy="-1.3">_</tspan><tspan dy="1.3">2y</tspan><tspan dy="-1.3">_</tspan><tspan dy="1.3">3</tspan></text>
<text x="57.3" y="554.38" font-size="6.3" text-anchor="end" fill="#3c3c3c" textLength="26.15" lengthAdjust="spacingAndGlyphs">WT<tspan dy="-1.3">_</tspan><tspan dy="1.3">2y</tspan><tspan dy="-1.3">_</tspan><tspan dy="1.3">4</tspan></text>
<text x="57.3" y="561.25" font-size="6.3" text-anchor="end" fill="#3c3c3c" textLength="49.25" lengthAdjust="spacingAndGlyphs">IL-1R1KO<tspan dy="-1.3">_</tspan><tspan dy="1.3">2mo</tspan><tspan dy="-1.3">_</tspan><tspan dy="1.3">1</tspan></text>
<text x="57.3" y="568.12" font-size="6.3" text-anchor="end" fill="#3c3c3c" textLength="49.25" lengthAdjust="spacingAndGlyphs">IL-1R1KO<tspan dy="-1.3">_</tspan><tspan dy="1.3">2mo</tspan><tspan dy="-1.3">_</tspan><tspan dy="1.3">2</tspan></text>
<text x="57.3" y="574.99" font-size="6.3" text-anchor="end" fill="#3c3c3c" textLength="49.25" lengthAdjust="spacingAndGlyphs">IL-1R1KO<tspan dy="-1.3">_</tspan><tspan dy="1.3">2mo</tspan><tspan dy="-1.3">_</tspan><tspan dy="1.3">3</tspan></text>
<text x="57.3" y="581.86" font-size="6.3" text-anchor="end" fill="#3c3c3c" textLength="43.82" lengthAdjust="spacingAndGlyphs">IL-1R1KO<tspan dy="-1.3">_</tspan><tspan dy="1.3">2y</tspan><tspan dy="-1.3">_</tspan><tspan dy="1.3">1</tspan></text>
<text x="57.3" y="588.73" font-size="6.3" text-anchor="end" fill="#3c3c3c" textLength="43.82" lengthAdjust="spacingAndGlyphs">IL-1R1KO<tspan dy="-1.3">_</tspan><tspan dy="1.3">2y</tspan><tspan dy="-1.3">_</tspan><tspan dy="1.3">2</tspan></text>
<text x="57.3" y="595.60" font-size="6.3" text-anchor="end" fill="#3c3c3c" textLength="43.82" lengthAdjust="spacingAndGlyphs">IL-1R1KO<tspan dy="-1.3">_</tspan><tspan dy="1.3">2y</tspan><tspan dy="-1.3">_</tspan><tspan dy="1.3">3</tspan></text>
<text x="57.3" y="602.47" font-size="6.3" text-anchor="end" fill="#3c3c3c" textLength="43.82" lengthAdjust="spacingAndGlyphs">IL-1R1KO<tspan dy="-1.3">_</tspan><tspan dy="1.3">2y</tspan><tspan dy="-1.3">_</tspan><tspan dy="1.3">4</tspan></text>
<text x="57.3" y="609.34" font-size="6.3" text-anchor="end" fill="#3c3c3c" textLength="43.82" lengthAdjust="spacingAndGlyphs">IL-1R1KO<tspan dy="-1.3">_</tspan><tspan dy="1.3">2y</tspan><tspan dy="-1.3">_</tspan><tspan dy="1.3">5</tspan></text>
<g shape-rendering="crispEdges">
<rect x="61.20" y="500.60" width="6.93" height="6.93" fill="#b9bfdf"/>
<rect x="68.07" y="500.60" width="6.93" height="6.93" fill="#4856aa"/>
<rect x="74.94" y="500.60" width="6.93" height="6.93" fill="#636fb7"/>
<rect x="81.81" y="500.60" width="6.93" height="6.93" fill="#8c95c9"/>
<rect x="88.68" y="500.60" width="6.93" height="6.93" fill="#636fb7"/>
<rect x="95.55" y="500.60" width="6.93" height="6.93" fill="#b9bfdf"/>
<rect x="102.42" y="500.60" width="6.93" height="6.93" fill="#4856aa"/>
<rect x="109.29" y="500.60" width="6.93" height="6.93" fill="#4856aa"/>
<rect x="116.16" y="500.60" width="6.93" height="6.93" fill="#8c95c9"/>
<rect x="123.03" y="500.60" width="6.93" height="6.93" fill="#4856aa"/>
<rect x="129.90" y="500.60" width="6.93" height="6.93" fill="#4856aa"/>
<rect x="136.77" y="500.60" width="6.93" height="6.93" fill="#8c95c9"/>
<rect x="143.64" y="500.60" width="6.93" height="6.93" fill="#b9bfdf"/>
<rect x="150.51" y="500.60" width="6.93" height="6.93" fill="#ec1c24"/>
<rect x="157.38" y="500.60" width="6.93" height="6.93" fill="#636fb7"/>
<rect x="164.25" y="500.60" width="6.93" height="6.93" fill="#4856aa"/>
<rect x="171.12" y="500.60" width="6.93" height="6.93" fill="#b9bfdf"/>
<rect x="177.99" y="500.60" width="6.93" height="6.93" fill="#4856aa"/>
<rect x="184.86" y="500.60" width="6.93" height="6.93" fill="#4856aa"/>
<rect x="191.73" y="500.60" width="6.93" height="6.93" fill="#4856aa"/>
<rect x="198.60" y="500.60" width="6.93" height="6.93" fill="#8c95c9"/>
<rect x="205.47" y="500.60" width="6.93" height="6.93" fill="#636fb7"/>
<rect x="61.20" y="507.47" width="6.93" height="6.93" fill="#e0e2f1"/>
<rect x="68.07" y="507.47" width="6.93" height="6.93" fill="#4856aa"/>
<rect x="74.94" y="507.47" width="6.93" height="6.93" fill="#4856aa"/>
<rect x="81.81" y="507.47" width="6.93" height="6.93" fill="#636fb7"/>
<rect x="88.68" y="507.47" width="6.93" height="6.93" fill="#4856aa"/>
<rect x="95.55" y="507.47" width="6.93" height="6.93" fill="#636fb7"/>
<rect x="102.42" y="507.47" width="6.93" height="6.93" fill="#4856aa"/>
<rect x="109.29" y="507.47" width="6.93" height="6.93" fill="#4856aa"/>
<rect x="116.16" y="507.47" width="6.93" height="6.93" fill="#4856aa"/>
<rect x="123.03" y="507.47" width="6.93" height="6.93" fill="#4856aa"/>
<rect x="129.90" y="507.47" width="6.93" height="6.93" fill="#636fb7"/>
<rect x="136.77" y="507.47" width="6.93" height="6.93" fill="#636fb7"/>
<rect x="143.64" y="507.47" width="6.93" height="6.93" fill="#ffffff"/>
<rect x="150.51" y="507.47" width="6.93" height="6.93" fill="#4856aa"/>
<rect x="157.38" y="507.47" width="6.93" height="6.93" fill="#4856aa"/>
<rect x="164.25" y="507.47" width="6.93" height="6.93" fill="#4856aa"/>
<rect x="171.12" y="507.47" width="6.93" height="6.93" fill="#4856aa"/>
<rect x="177.99" y="507.47" width="6.93" height="6.93" fill="#4856aa"/>
<rect x="184.86" y="507.47" width="6.93" height="6.93" fill="#4856aa"/>
<rect x="191.73" y="507.47" width="6.93" height="6.93" fill="#4856aa"/>
<rect x="198.60" y="507.47" width="6.93" height="6.93" fill="#4856aa"/>
<rect x="205.47" y="507.47" width="6.93" height="6.93" fill="#636fb7"/>
<rect x="61.20" y="514.34" width="6.93" height="6.93" fill="#4856aa"/>
<rect x="68.07" y="514.34" width="6.93" height="6.93" fill="#4856aa"/>
<rect x="74.94" y="514.34" width="6.93" height="6.93" fill="#8c95c9"/>
<rect x="81.81" y="514.34" width="6.93" height="6.93" fill="#4856aa"/>
<rect x="88.68" y="514.34" width="6.93" height="6.93" fill="#4856aa"/>
<rect x="95.55" y="514.34" width="6.93" height="6.93" fill="#4856aa"/>
<rect x="102.42" y="514.34" width="6.93" height="6.93" fill="#4856aa"/>
<rect x="109.29" y="514.34" width="6.93" height="6.93" fill="#4856aa"/>
<rect x="116.16" y="514.34" width="6.93" height="6.93" fill="#4856aa"/>
<rect x="123.03" y="514.34" width="6.93" height="6.93" fill="#8c95c9"/>
<rect x="129.90" y="514.34" width="6.93" height="6.93" fill="#4856aa"/>
<rect x="136.77" y="514.34" width="6.93" height="6.93" fill="#636fb7"/>
<rect x="143.64" y="514.34" width="6.93" height="6.93" fill="#4856aa"/>
<rect x="150.51" y="514.34" width="6.93" height="6.93" fill="#e0e2f1"/>
<rect x="157.38" y="514.34" width="6.93" height="6.93" fill="#8c95c9"/>
<rect x="164.25" y="514.34" width="6.93" height="6.93" fill="#f68e92"/>
<rect x="171.12" y="514.34" width="6.93" height="6.93" fill="#636fb7"/>
<rect x="177.99" y="514.34" width="6.93" height="6.93" fill="#4856aa"/>
<rect x="184.86" y="514.34" width="6.93" height="6.93" fill="#4856aa"/>
<rect x="191.73" y="514.34" width="6.93" height="6.93" fill="#8c95c9"/>
<rect x="198.60" y="514.34" width="6.93" height="6.93" fill="#4856aa"/>
<rect x="205.47" y="514.34" width="6.93" height="6.93" fill="#4856aa"/>
<rect x="61.20" y="521.21" width="6.93" height="6.93" fill="#8c95c9"/>
<rect x="68.07" y="521.21" width="6.93" height="6.93" fill="#4856aa"/>
<rect x="74.94" y="521.21" width="6.93" height="6.93" fill="#4856aa"/>
<rect x="81.81" y="521.21" width="6.93" height="6.93" fill="#636fb7"/>
<rect x="88.68" y="521.21" width="6.93" height="6.93" fill="#4856aa"/>
<rect x="95.55" y="521.21" width="6.93" height="6.93" fill="#4856aa"/>
<rect x="102.42" y="521.21" width="6.93" height="6.93" fill="#4856aa"/>
<rect x="109.29" y="521.21" width="6.93" height="6.93" fill="#636fb7"/>
<rect x="116.16" y="521.21" width="6.93" height="6.93" fill="#4856aa"/>
<rect x="123.03" y="521.21" width="6.93" height="6.93" fill="#4856aa"/>
<rect x="129.90" y="521.21" width="6.93" height="6.93" fill="#f68e92"/>
<rect x="136.77" y="521.21" width="6.93" height="6.93" fill="#4856aa"/>
<rect x="143.64" y="521.21" width="6.93" height="6.93" fill="#ffffff"/>
<rect x="150.51" y="521.21" width="6.93" height="6.93" fill="#ffffff"/>
<rect x="157.38" y="521.21" width="6.93" height="6.93" fill="#4856aa"/>
<rect x="164.25" y="521.21" width="6.93" height="6.93" fill="#8c95c9"/>
<rect x="171.12" y="521.21" width="6.93" height="6.93" fill="#4856aa"/>
<rect x="177.99" y="521.21" width="6.93" height="6.93" fill="#4856aa"/>
<rect x="184.86" y="521.21" width="6.93" height="6.93" fill="#4856aa"/>
<rect x="191.73" y="521.21" width="6.93" height="6.93" fill="#4856aa"/>
<rect x="198.60" y="521.21" width="6.93" height="6.93" fill="#fde4e5"/>
<rect x="205.47" y="521.21" width="6.93" height="6.93" fill="#4856aa"/>
<rect x="61.20" y="528.08" width="6.93" height="6.93" fill="#ec1c24"/>
<rect x="68.07" y="528.08" width="6.93" height="6.93" fill="#fac6c8"/>
<rect x="74.94" y="528.08" width="6.93" height="6.93" fill="#ec1c24"/>
<rect x="81.81" y="528.08" width="6.93" height="6.93" fill="#ec1c24"/>
<rect x="88.68" y="528.08" width="6.93" height="6.93" fill="#f15259"/>
<rect x="95.55" y="528.08" width="6.93" height="6.93" fill="#f15259"/>
<rect x="102.42" y="528.08" width="6.93" height="6.93" fill="#f68e92"/>
<rect x="109.29" y="528.08" width="6.93" height="6.93" fill="#fac6c8"/>
<rect x="116.16" y="528.08" width="6.93" height="6.93" fill="#e0e2f1"/>
<rect x="123.03" y="528.08" width="6.93" height="6.93" fill="#f68e92"/>
<rect x="129.90" y="528.08" width="6.93" height="6.93" fill="#fac6c8"/>
<rect x="136.77" y="528.08" width="6.93" height="6.93" fill="#fac6c8"/>
<rect x="143.64" y="528.08" width="6.93" height="6.93" fill="#ec1c24"/>
<rect x="150.51" y="528.08" width="6.93" height="6.93" fill="#ec1c24"/>
<rect x="157.38" y="528.08" width="6.93" height="6.93" fill="#ec1c24"/>
<rect x="164.25" y="528.08" width="6.93" height="6.93" fill="#fac6c8"/>
<rect x="171.12" y="528.08" width="6.93" height="6.93" fill="#f68e92"/>
<rect x="177.99" y="528.08" width="6.93" height="6.93" fill="#f68e92"/>
<rect x="184.86" y="528.08" width="6.93" height="6.93" fill="#f15259"/>
<rect x="191.73" y="528.08" width="6.93" height="6.93" fill="#ffffff"/>
<rect x="198.60" y="528.08" width="6.93" height="6.93" fill="#ec1c24"/>
<rect x="205.47" y="528.08" width="6.93" height="6.93" fill="#fde4e5"/>
<rect x="61.20" y="534.95" width="6.93" height="6.93" fill="#ec1c24"/>
<rect x="68.07" y="534.95" width="6.93" height="6.93" fill="#636fb7"/>
<rect x="74.94" y="534.95" width="6.93" height="6.93" fill="#f68e92"/>
<rect x="81.81" y="534.95" width="6.93" height="6.93" fill="#ec1c24"/>
<rect x="88.68" y="534.95" width="6.93" height="6.93" fill="#ec1c24"/>
<rect x="95.55" y="534.95" width="6.93" height="6.93" fill="#ec1c24"/>
<rect x="102.42" y="534.95" width="6.93" height="6.93" fill="#e0e2f1"/>
<rect x="109.29" y="534.95" width="6.93" height="6.93" fill="#ec1c24"/>
<rect x="116.16" y="534.95" width="6.93" height="6.93" fill="#fac6c8"/>
<rect x="123.03" y="534.95" width="6.93" height="6.93" fill="#ec1c24"/>
<rect x="129.90" y="534.95" width="6.93" height="6.93" fill="#ec1c24"/>
<rect x="136.77" y="534.95" width="6.93" height="6.93" fill="#ec1c24"/>
<rect x="143.64" y="534.95" width="6.93" height="6.93" fill="#ec1c24"/>
<rect x="150.51" y="534.95" width="6.93" height="6.93" fill="#ec1c24"/>
<rect x="157.38" y="534.95" width="6.93" height="6.93" fill="#f15259"/>
<rect x="164.25" y="534.95" width="6.93" height="6.93" fill="#ec1c24"/>
<rect x="171.12" y="534.95" width="6.93" height="6.93" fill="#ec1c24"/>
<rect x="177.99" y="534.95" width="6.93" height="6.93" fill="#ec1c24"/>
<rect x="184.86" y="534.95" width="6.93" height="6.93" fill="#ec1c24"/>
<rect x="191.73" y="534.95" width="6.93" height="6.93" fill="#f15259"/>
<rect x="198.60" y="534.95" width="6.93" height="6.93" fill="#ec1c24"/>
<rect x="205.47" y="534.95" width="6.93" height="6.93" fill="#ec1c24"/>
<rect x="61.20" y="541.82" width="6.93" height="6.93" fill="#fde4e5"/>
<rect x="68.07" y="541.82" width="6.93" height="6.93" fill="#ec1c24"/>
<rect x="74.94" y="541.82" width="6.93" height="6.93" fill="#ec1c24"/>
<rect x="81.81" y="541.82" width="6.93" height="6.93" fill="#ec1c24"/>
<rect x="88.68" y="541.82" width="6.93" height="6.93" fill="#ec1c24"/>
<rect x="95.55" y="541.82" width="6.93" height="6.93" fill="#ec1c24"/>
<rect x="102.42" y="541.82" width="6.93" height="6.93" fill="#ec1c24"/>
<rect x="109.29" y="541.82" width="6.93" height="6.93" fill="#ec1c24"/>
<rect x="116.16" y="541.82" width="6.93" height="6.93" fill="#ec1c24"/>
<rect x="123.03" y="541.82" width="6.93" height="6.93" fill="#ec1c24"/>
<rect x="129.90" y="541.82" width="6.93" height="6.93" fill="#fde4e5"/>
<rect x="136.77" y="541.82" width="6.93" height="6.93" fill="#f15259"/>
<rect x="143.64" y="541.82" width="6.93" height="6.93" fill="#ec1c24"/>
<rect x="150.51" y="541.82" width="6.93" height="6.93" fill="#4856aa"/>
<rect x="157.38" y="541.82" width="6.93" height="6.93" fill="#ec1c24"/>
<rect x="164.25" y="541.82" width="6.93" height="6.93" fill="#ec1c24"/>
<rect x="171.12" y="541.82" width="6.93" height="6.93" fill="#ec1c24"/>
<rect x="177.99" y="541.82" width="6.93" height="6.93" fill="#ec1c24"/>
<rect x="184.86" y="541.82" width="6.93" height="6.93" fill="#ec1c24"/>
<rect x="191.73" y="541.82" width="6.93" height="6.93" fill="#f15259"/>
<rect x="198.60" y="541.82" width="6.93" height="6.93" fill="#f15259"/>
<rect x="205.47" y="541.82" width="6.93" height="6.93" fill="#f15259"/>
<rect x="61.20" y="548.69" width="6.93" height="6.93" fill="#ec1c24"/>
<rect x="68.07" y="548.69" width="6.93" height="6.93" fill="#ec1c24"/>
<rect x="74.94" y="548.69" width="6.93" height="6.93" fill="#ec1c24"/>
<rect x="81.81" y="548.69" width="6.93" height="6.93" fill="#f68e92"/>
<rect x="88.68" y="548.69" width="6.93" height="6.93" fill="#ec1c24"/>
<rect x="95.55" y="548.69" width="6.93" height="6.93" fill="#ec1c24"/>
<rect x="102.42" y="548.69" width="6.93" height="6.93" fill="#fde4e5"/>
<rect x="109.29" y="548.69" width="6.93" height="6.93" fill="#ec1c24"/>
<rect x="116.16" y="548.69" width="6.93" height="6.93" fill="#f15259"/>
<rect x="123.03" y="548.69" width="6.93" height="6.93" fill="#f15259"/>
<rect x="129.90" y="548.69" width="6.93" height="6.93" fill="#ec1c24"/>
<rect x="136.77" y="548.69" width="6.93" height="6.93" fill="#ec1c24"/>
<rect x="143.64" y="548.69" width="6.93" height="6.93" fill="#ec1c24"/>
<rect x="150.51" y="548.69" width="6.93" height="6.93" fill="#ec1c24"/>
<rect x="157.38" y="548.69" width="6.93" height="6.93" fill="#ec1c24"/>
<rect x="164.25" y="548.69" width="6.93" height="6.93" fill="#ec1c24"/>
<rect x="171.12" y="548.69" width="6.93" height="6.93" fill="#ec1c24"/>
<rect x="177.99" y="548.69" width="6.93" height="6.93" fill="#ec1c24"/>
<rect x="184.86" y="548.69" width="6.93" height="6.93" fill="#ec1c24"/>
<rect x="191.73" y="548.69" width="6.93" height="6.93" fill="#ec1c24"/>
<rect x="198.60" y="548.69" width="6.93" height="6.93" fill="#ec1c24"/>
<rect x="205.47" y="548.69" width="6.93" height="6.93" fill="#f15259"/>
<rect x="61.20" y="555.56" width="6.93" height="6.93" fill="#4856aa"/>
<rect x="68.07" y="555.56" width="6.93" height="6.93" fill="#4856aa"/>
<rect x="74.94" y="555.56" width="6.93" height="6.93" fill="#4856aa"/>
<rect x="81.81" y="555.56" width="6.93" height="6.93" fill="#4856aa"/>
<rect x="88.68" y="555.56" width="6.93" height="6.93" fill="#636fb7"/>
<rect x="95.55" y="555.56" width="6.93" height="6.93" fill="#636fb7"/>
<rect x="102.42" y="555.56" width="6.93" height="6.93" fill="#4856aa"/>
<rect x="109.29" y="555.56" width="6.93" height="6.93" fill="#636fb7"/>
<rect x="116.16" y="555.56" width="6.93" height="6.93" fill="#4856aa"/>
<rect x="123.03" y="555.56" width="6.93" height="6.93" fill="#4856aa"/>
<rect x="129.90" y="555.56" width="6.93" height="6.93" fill="#f68e92"/>
<rect x="136.77" y="555.56" width="6.93" height="6.93" fill="#8c95c9"/>
<rect x="143.64" y="555.56" width="6.93" height="6.93" fill="#636fb7"/>
<rect x="150.51" y="555.56" width="6.93" height="6.93" fill="#8c95c9"/>
<rect x="157.38" y="555.56" width="6.93" height="6.93" fill="#4856aa"/>
<rect x="164.25" y="555.56" width="6.93" height="6.93" fill="#f68e92"/>
<rect x="171.12" y="555.56" width="6.93" height="6.93" fill="#4856aa"/>
<rect x="177.99" y="555.56" width="6.93" height="6.93" fill="#4856aa"/>
<rect x="184.86" y="555.56" width="6.93" height="6.93" fill="#e0e2f1"/>
<rect x="191.73" y="555.56" width="6.93" height="6.93" fill="#b9bfdf"/>
<rect x="198.60" y="555.56" width="6.93" height="6.93" fill="#ffffff"/>
<rect x="205.47" y="555.56" width="6.93" height="6.93" fill="#8c95c9"/>
<rect x="61.20" y="562.43" width="6.93" height="6.93" fill="#4856aa"/>
<rect x="68.07" y="562.43" width="6.93" height="6.93" fill="#4856aa"/>
<rect x="74.94" y="562.43" width="6.93" height="6.93" fill="#e0e2f1"/>
<rect x="81.81" y="562.43" width="6.93" height="6.93" fill="#4856aa"/>
<rect x="88.68" y="562.43" width="6.93" height="6.93" fill="#b9bfdf"/>
<rect x="95.55" y="562.43" width="6.93" height="6.93" fill="#e0e2f1"/>
<rect x="102.42" y="562.43" width="6.93" height="6.93" fill="#fde4e5"/>
<rect x="109.29" y="562.43" width="6.93" height="6.93" fill="#ffffff"/>
<rect x="116.16" y="562.43" width="6.93" height="6.93" fill="#f68e92"/>
<rect x="123.03" y="562.43" width="6.93" height="6.93" fill="#4856aa"/>
<rect x="129.90" y="562.43" width="6.93" height="6.93" fill="#fac6c8"/>
<rect x="136.77" y="562.43" width="6.93" height="6.93" fill="#4856aa"/>
<rect x="143.64" y="562.43" width="6.93" height="6.93" fill="#ffffff"/>
<rect x="150.51" y="562.43" width="6.93" height="6.93" fill="#636fb7"/>
<rect x="157.38" y="562.43" width="6.93" height="6.93" fill="#f68e92"/>
<rect x="164.25" y="562.43" width="6.93" height="6.93" fill="#fac6c8"/>
<rect x="171.12" y="562.43" width="6.93" height="6.93" fill="#636fb7"/>
<rect x="177.99" y="562.43" width="6.93" height="6.93" fill="#e0e2f1"/>
<rect x="184.86" y="562.43" width="6.93" height="6.93" fill="#ffffff"/>
<rect x="191.73" y="562.43" width="6.93" height="6.93" fill="#ec1c24"/>
<rect x="198.60" y="562.43" width="6.93" height="6.93" fill="#4856aa"/>
<rect x="205.47" y="562.43" width="6.93" height="6.93" fill="#b9bfdf"/>
<rect x="61.20" y="569.30" width="6.93" height="6.93" fill="#fde4e5"/>
<rect x="68.07" y="569.30" width="6.93" height="6.93" fill="#8c95c9"/>
<rect x="74.94" y="569.30" width="6.93" height="6.93" fill="#ec1c24"/>
<rect x="81.81" y="569.30" width="6.93" height="6.93" fill="#ec1c24"/>
<rect x="88.68" y="569.30" width="6.93" height="6.93" fill="#ec1c24"/>
<rect x="95.55" y="569.30" width="6.93" height="6.93" fill="#636fb7"/>
<rect x="102.42" y="569.30" width="6.93" height="6.93" fill="#ec1c24"/>
<rect x="109.29" y="569.30" width="6.93" height="6.93" fill="#e0e2f1"/>
<rect x="116.16" y="569.30" width="6.93" height="6.93" fill="#f68e92"/>
<rect x="123.03" y="569.30" width="6.93" height="6.93" fill="#ffffff"/>
<rect x="129.90" y="569.30" width="6.93" height="6.93" fill="#4856aa"/>
<rect x="136.77" y="569.30" width="6.93" height="6.93" fill="#4856aa"/>
<rect x="143.64" y="569.30" width="6.93" height="6.93" fill="#4856aa"/>
<rect x="150.51" y="569.30" width="6.93" height="6.93" fill="#4856aa"/>
<rect x="157.38" y="569.30" width="6.93" height="6.93" fill="#8c95c9"/>
<rect x="164.25" y="569.30" width="6.93" height="6.93" fill="#4856aa"/>
<rect x="171.12" y="569.30" width="6.93" height="6.93" fill="#4856aa"/>
<rect x="177.99" y="569.30" width="6.93" height="6.93" fill="#ffffff"/>
<rect x="184.86" y="569.30" width="6.93" height="6.93" fill="#e0e2f1"/>
<rect x="191.73" y="569.30" width="6.93" height="6.93" fill="#ec1c24"/>
<rect x="198.60" y="569.30" width="6.93" height="6.93" fill="#4856aa"/>
<rect x="205.47" y="569.30" width="6.93" height="6.93" fill="#e0e2f1"/>
<rect x="61.20" y="576.17" width="6.93" height="6.93" fill="#8c95c9"/>
<rect x="68.07" y="576.17" width="6.93" height="6.93" fill="#fde4e5"/>
<rect x="74.94" y="576.17" width="6.93" height="6.93" fill="#f68e92"/>
<rect x="81.81" y="576.17" width="6.93" height="6.93" fill="#8c95c9"/>
<rect x="88.68" y="576.17" width="6.93" height="6.93" fill="#f15259"/>
<rect x="95.55" y="576.17" width="6.93" height="6.93" fill="#b9bfdf"/>
<rect x="102.42" y="576.17" width="6.93" height="6.93" fill="#ffffff"/>
<rect x="109.29" y="576.17" width="6.93" height="6.93" fill="#ffffff"/>
<rect x="116.16" y="576.17" width="6.93" height="6.93" fill="#b9bfdf"/>
<rect x="123.03" y="576.17" width="6.93" height="6.93" fill="#f15259"/>
<rect x="129.90" y="576.17" width="6.93" height="6.93" fill="#f68e92"/>
<rect x="136.77" y="576.17" width="6.93" height="6.93" fill="#f15259"/>
<rect x="143.64" y="576.17" width="6.93" height="6.93" fill="#4856aa"/>
<rect x="150.51" y="576.17" width="6.93" height="6.93" fill="#ec1c24"/>
<rect x="157.38" y="576.17" width="6.93" height="6.93" fill="#b9bfdf"/>
<rect x="164.25" y="576.17" width="6.93" height="6.93" fill="#ffffff"/>
<rect x="171.12" y="576.17" width="6.93" height="6.93" fill="#f68e92"/>
<rect x="177.99" y="576.17" width="6.93" height="6.93" fill="#b9bfdf"/>
<rect x="184.86" y="576.17" width="6.93" height="6.93" fill="#636fb7"/>
<rect x="191.73" y="576.17" width="6.93" height="6.93" fill="#4856aa"/>
<rect x="198.60" y="576.17" width="6.93" height="6.93" fill="#e0e2f1"/>
<rect x="205.47" y="576.17" width="6.93" height="6.93" fill="#ec1c24"/>
<rect x="61.20" y="583.04" width="6.93" height="6.93" fill="#ffffff"/>
<rect x="68.07" y="583.04" width="6.93" height="6.93" fill="#ec1c24"/>
<rect x="74.94" y="583.04" width="6.93" height="6.93" fill="#ec1c24"/>
<rect x="81.81" y="583.04" width="6.93" height="6.93" fill="#ec1c24"/>
<rect x="88.68" y="583.04" width="6.93" height="6.93" fill="#636fb7"/>
<rect x="95.55" y="583.04" width="6.93" height="6.93" fill="#fac6c8"/>
<rect x="102.42" y="583.04" width="6.93" height="6.93" fill="#ec1c24"/>
<rect x="109.29" y="583.04" width="6.93" height="6.93" fill="#ec1c24"/>
<rect x="116.16" y="583.04" width="6.93" height="6.93" fill="#ec1c24"/>
<rect x="123.03" y="583.04" width="6.93" height="6.93" fill="#ec1c24"/>
<rect x="129.90" y="583.04" width="6.93" height="6.93" fill="#ffffff"/>
<rect x="136.77" y="583.04" width="6.93" height="6.93" fill="#ec1c24"/>
<rect x="143.64" y="583.04" width="6.93" height="6.93" fill="#b9bfdf"/>
<rect x="150.51" y="583.04" width="6.93" height="6.93" fill="#4856aa"/>
<rect x="157.38" y="583.04" width="6.93" height="6.93" fill="#f15259"/>
<rect x="164.25" y="583.04" width="6.93" height="6.93" fill="#8c95c9"/>
<rect x="171.12" y="583.04" width="6.93" height="6.93" fill="#ec1c24"/>
<rect x="177.99" y="583.04" width="6.93" height="6.93" fill="#ec1c24"/>
<rect x="184.86" y="583.04" width="6.93" height="6.93" fill="#f15259"/>
<rect x="191.73" y="583.04" width="6.93" height="6.93" fill="#fde4e5"/>
<rect x="198.60" y="583.04" width="6.93" height="6.93" fill="#ec1c24"/>
<rect x="205.47" y="583.04" width="6.93" height="6.93" fill="#fac6c8"/>
<rect x="61.20" y="589.91" width="6.93" height="6.93" fill="#ffffff"/>
<rect x="68.07" y="589.91" width="6.93" height="6.93" fill="#f15259"/>
<rect x="74.94" y="589.91" width="6.93" height="6.93" fill="#f15259"/>
<rect x="81.81" y="589.91" width="6.93" height="6.93" fill="#ec1c24"/>
<rect x="88.68" y="589.91" width="6.93" height="6.93" fill="#ffffff"/>
<rect x="95.55" y="589.91" width="6.93" height="6.93" fill="#ec1c24"/>
<rect x="102.42" y="589.91" width="6.93" height="6.93" fill="#ec1c24"/>
<rect x="109.29" y="589.91" width="6.93" height="6.93" fill="#ec1c24"/>
<rect x="116.16" y="589.91" width="6.93" height="6.93" fill="#ec1c24"/>
<rect x="123.03" y="589.91" width="6.93" height="6.93" fill="#ec1c24"/>
<rect x="129.90" y="589.91" width="6.93" height="6.93" fill="#ec1c24"/>
<rect x="136.77" y="589.91" width="6.93" height="6.93" fill="#ec1c24"/>
<rect x="143.64" y="589.91" width="6.93" height="6.93" fill="#636fb7"/>
<rect x="150.51" y="589.91" width="6.93" height="6.93" fill="#b9bfdf"/>
<rect x="157.38" y="589.91" width="6.93" height="6.93" fill="#f15259"/>
<rect x="164.25" y="589.91" width="6.93" height="6.93" fill="#ec1c24"/>
<rect x="171.12" y="589.91" width="6.93" height="6.93" fill="#ec1c24"/>
<rect x="177.99" y="589.91" width="6.93" height="6.93" fill="#f15259"/>
<rect x="184.86" y="589.91" width="6.93" height="6.93" fill="#f15259"/>
<rect x="191.73" y="589.91" width="6.93" height="6.93" fill="#b9bfdf"/>
<rect x="198.60" y="589.91" width="6.93" height="6.93" fill="#f68e92"/>
<rect x="205.47" y="589.91" width="6.93" height="6.93" fill="#ec1c24"/>
<rect x="61.20" y="596.78" width="6.93" height="6.93" fill="#ec1c24"/>
<rect x="68.07" y="596.78" width="6.93" height="6.93" fill="#f68e92"/>
<rect x="74.94" y="596.78" width="6.93" height="6.93" fill="#fac6c8"/>
<rect x="81.81" y="596.78" width="6.93" height="6.93" fill="#4856aa"/>
<rect x="88.68" y="596.78" width="6.93" height="6.93" fill="#b9bfdf"/>
<rect x="95.55" y="596.78" width="6.93" height="6.93" fill="#fac6c8"/>
<rect x="102.42" y="596.78" width="6.93" height="6.93" fill="#f68e92"/>
<rect x="109.29" y="596.78" width="6.93" height="6.93" fill="#8c95c9"/>
<rect x="116.16" y="596.78" width="6.93" height="6.93" fill="#fac6c8"/>
<rect x="123.03" y="596.78" width="6.93" height="6.93" fill="#f68e92"/>
<rect x="129.90" y="596.78" width="6.93" height="6.93" fill="#fac6c8"/>
<rect x="136.77" y="596.78" width="6.93" height="6.93" fill="#fde4e5"/>
<rect x="143.64" y="596.78" width="6.93" height="6.93" fill="#f15259"/>
<rect x="150.51" y="596.78" width="6.93" height="6.93" fill="#b9bfdf"/>
<rect x="157.38" y="596.78" width="6.93" height="6.93" fill="#8c95c9"/>
<rect x="164.25" y="596.78" width="6.93" height="6.93" fill="#4856aa"/>
<rect x="171.12" y="596.78" width="6.93" height="6.93" fill="#e0e2f1"/>
<rect x="177.99" y="596.78" width="6.93" height="6.93" fill="#8c95c9"/>
<rect x="184.86" y="596.78" width="6.93" height="6.93" fill="#ffffff"/>
<rect x="191.73" y="596.78" width="6.93" height="6.93" fill="#f15259"/>
<rect x="198.60" y="596.78" width="6.93" height="6.93" fill="#fac6c8"/>
<rect x="205.47" y="596.78" width="6.93" height="6.93" fill="#ec1c24"/>
<rect x="61.20" y="603.65" width="6.93" height="6.93" fill="#f15259"/>
<rect x="68.07" y="603.65" width="6.93" height="6.93" fill="#fac6c8"/>
<rect x="74.94" y="603.65" width="6.93" height="6.93" fill="#ec1c24"/>
<rect x="81.81" y="603.65" width="6.93" height="6.93" fill="#ffffff"/>
<rect x="88.68" y="603.65" width="6.93" height="6.93" fill="#8c95c9"/>
<rect x="95.55" y="603.65" width="6.93" height="6.93" fill="#ec1c24"/>
<rect x="102.42" y="603.65" width="6.93" height="6.93" fill="#ec1c24"/>
<rect x="109.29" y="603.65" width="6.93" height="6.93" fill="#ec1c24"/>
<rect x="116.16" y="603.65" width="6.93" height="6.93" fill="#ec1c24"/>
<rect x="123.03" y="603.65" width="6.93" height="6.93" fill="#f15259"/>
<rect x="129.90" y="603.65" width="6.93" height="6.93" fill="#fde4e5"/>
<rect x="136.77" y="603.65" width="6.93" height="6.93" fill="#f15259"/>
<rect x="143.64" y="603.65" width="6.93" height="6.93" fill="#fde4e5"/>
<rect x="150.51" y="603.65" width="6.93" height="6.93" fill="#ec1c24"/>
<rect x="157.38" y="603.65" width="6.93" height="6.93" fill="#ec1c24"/>
<rect x="164.25" y="603.65" width="6.93" height="6.93" fill="#fde4e5"/>
<rect x="171.12" y="603.65" width="6.93" height="6.93" fill="#ec1c24"/>
<rect x="177.99" y="603.65" width="6.93" height="6.93" fill="#ec1c24"/>
<rect x="184.86" y="603.65" width="6.93" height="6.93" fill="#f15259"/>
<rect x="191.73" y="603.65" width="6.93" height="6.93" fill="#fde4e5"/>
<rect x="198.60" y="603.65" width="6.93" height="6.93" fill="#b9bfdf"/>
<rect x="205.47" y="603.65" width="6.93" height="6.93" fill="#f68e92"/>
</g>
<text x="0" y="0" font-size="6.3" fill="#333" transform="translate(66.84 497.9) rotate(-90)">Ackr1</text>
<text x="0" y="0" font-size="6.3" fill="#333" transform="translate(73.70 497.9) rotate(-90)">C7</text>
<text x="0" y="0" font-size="6.3" fill="#333" transform="translate(80.58 497.9) rotate(-90)">CD74</text>
<text x="0" y="0" font-size="6.3" fill="#333" transform="translate(87.45 497.9) rotate(-90)">Cxcl5</text>
<text x="0" y="0" font-size="6.3" fill="#333" transform="translate(94.32 497.9) rotate(-90)">Gas6</text>
<text x="0" y="0" font-size="6.3" fill="#333" transform="translate(101.19 497.9) rotate(-90)">Gbp2</text>
<text x="0" y="0" font-size="6.3" fill="#333" transform="translate(108.06 497.9) rotate(-90)">Gbp4</text>
<text x="0" y="0" font-size="6.3" fill="#333" transform="translate(114.92 497.9) rotate(-90)">Igtp</text>
<text x="0" y="0" font-size="6.3" fill="#333" transform="translate(121.80 497.9) rotate(-90)">Iigp1</text>
<text x="0" y="0" font-size="6.3" fill="#333" transform="translate(128.66 497.9) rotate(-90)">Il1rapl2</text>
<text x="0" y="0" font-size="6.3" fill="#333" transform="translate(135.53 497.9) rotate(-90)">Irak3</text>
<text x="0" y="0" font-size="6.3" fill="#333" transform="translate(142.40 497.9) rotate(-90)">Jak3</text>
<text x="0" y="0" font-size="6.3" fill="#333" transform="translate(149.27 497.9) rotate(-90)">Pde2a</text>
<text x="0" y="0" font-size="6.3" fill="#333" transform="translate(156.14 497.9) rotate(-90)">Relb*</text>
<text x="0" y="0" font-size="6.3" fill="#333" transform="translate(163.01 497.9) rotate(-90)">Stat1</text>
<text x="0" y="0" font-size="6.3" fill="#333" transform="translate(169.88 497.9) rotate(-90)">Stat2</text>
<text x="0" y="0" font-size="6.3" fill="#333" transform="translate(176.75 497.9) rotate(-90)">Stat3</text>
<text x="0" y="0" font-size="6.3" fill="#333" transform="translate(183.62 497.9) rotate(-90)">Tgtp1</text>
<text x="0" y="0" font-size="6.3" fill="#333" transform="translate(190.50 497.9) rotate(-90)">Tgtp2</text>
<text x="0" y="0" font-size="6.3" fill="#333" transform="translate(197.37 497.9) rotate(-90)">Timp3</text>
<text x="0" y="0" font-size="6.3" fill="#333" transform="translate(204.24 497.9) rotate(-90)">Tirap</text>
<text x="0" y="0" font-size="6.3" fill="#333" transform="translate(211.11 497.9) rotate(-90)">Tnip3</text>
<g shape-rendering="crispEdges">
<rect x="222.40" y="500.60" width="6.93" height="6.93" fill="#f68e92"/>
<rect x="229.27" y="500.60" width="6.93" height="6.93" fill="#f15259"/>
<rect x="236.14" y="500.60" width="6.93" height="6.93" fill="#ec1c24"/>
<rect x="243.01" y="500.60" width="6.93" height="6.93" fill="#ec1c24"/>
<rect x="249.88" y="500.60" width="6.93" height="6.93" fill="#f15259"/>
<rect x="256.75" y="500.60" width="6.93" height="6.93" fill="#636fb7"/>
<rect x="263.62" y="500.60" width="6.93" height="6.93" fill="#ec1c24"/>
<rect x="270.49" y="500.60" width="6.93" height="6.93" fill="#ec1c24"/>
<rect x="277.36" y="500.60" width="6.93" height="6.93" fill="#fde4e5"/>
<rect x="284.23" y="500.60" width="6.93" height="6.93" fill="#ffffff"/>
<rect x="291.10" y="500.60" width="6.93" height="6.93" fill="#4856aa"/>
<rect x="297.97" y="500.60" width="6.93" height="6.93" fill="#f68e92"/>
<rect x="304.84" y="500.60" width="6.93" height="6.93" fill="#4856aa"/>
<rect x="311.71" y="500.60" width="6.93" height="6.93" fill="#e0e2f1"/>
<rect x="318.58" y="500.60" width="6.93" height="6.93" fill="#e0e2f1"/>
<rect x="325.45" y="500.60" width="6.93" height="6.93" fill="#4856aa"/>
<rect x="332.32" y="500.60" width="6.93" height="6.93" fill="#636fb7"/>
<rect x="339.19" y="500.60" width="6.93" height="6.93" fill="#b9bfdf"/>
<rect x="222.40" y="507.47" width="6.93" height="6.93" fill="#ec1c24"/>
<rect x="229.27" y="507.47" width="6.93" height="6.93" fill="#ec1c24"/>
<rect x="236.14" y="507.47" width="6.93" height="6.93" fill="#ec1c24"/>
<rect x="243.01" y="507.47" width="6.93" height="6.93" fill="#f68e92"/>
<rect x="249.88" y="507.47" width="6.93" height="6.93" fill="#fac6c8"/>
<rect x="256.75" y="507.47" width="6.93" height="6.93" fill="#ec1c24"/>
<rect x="263.62" y="507.47" width="6.93" height="6.93" fill="#f68e92"/>
<rect x="270.49" y="507.47" width="6.93" height="6.93" fill="#ffffff"/>
<rect x="277.36" y="507.47" width="6.93" height="6.93" fill="#8c95c9"/>
<rect x="284.23" y="507.47" width="6.93" height="6.93" fill="#ffffff"/>
<rect x="291.10" y="507.47" width="6.93" height="6.93" fill="#8c95c9"/>
<rect x="297.97" y="507.47" width="6.93" height="6.93" fill="#4856aa"/>
<rect x="304.84" y="507.47" width="6.93" height="6.93" fill="#ec1c24"/>
<rect x="311.71" y="507.47" width="6.93" height="6.93" fill="#b9bfdf"/>
<rect x="318.58" y="507.47" width="6.93" height="6.93" fill="#4856aa"/>
<rect x="325.45" y="507.47" width="6.93" height="6.93" fill="#ffffff"/>
<rect x="332.32" y="507.47" width="6.93" height="6.93" fill="#636fb7"/>
<rect x="339.19" y="507.47" width="6.93" height="6.93" fill="#4856aa"/>
<rect x="222.40" y="514.34" width="6.93" height="6.93" fill="#ec1c24"/>
<rect x="229.27" y="514.34" width="6.93" height="6.93" fill="#ec1c24"/>
<rect x="236.14" y="514.34" width="6.93" height="6.93" fill="#ec1c24"/>
<rect x="243.01" y="514.34" width="6.93" height="6.93" fill="#ec1c24"/>
<rect x="249.88" y="514.34" width="6.93" height="6.93" fill="#f15259"/>
<rect x="256.75" y="514.34" width="6.93" height="6.93" fill="#ffffff"/>
<rect x="263.62" y="514.34" width="6.93" height="6.93" fill="#f68e92"/>
<rect x="270.49" y="514.34" width="6.93" height="6.93" fill="#ec1c24"/>
<rect x="277.36" y="514.34" width="6.93" height="6.93" fill="#ec1c24"/>
<rect x="284.23" y="514.34" width="6.93" height="6.93" fill="#f15259"/>
<rect x="291.10" y="514.34" width="6.93" height="6.93" fill="#4856aa"/>
<rect x="297.97" y="514.34" width="6.93" height="6.93" fill="#e0e2f1"/>
<rect x="304.84" y="514.34" width="6.93" height="6.93" fill="#8c95c9"/>
<rect x="311.71" y="514.34" width="6.93" height="6.93" fill="#ec1c24"/>
<rect x="318.58" y="514.34" width="6.93" height="6.93" fill="#8c95c9"/>
<rect x="325.45" y="514.34" width="6.93" height="6.93" fill="#4856aa"/>
<rect x="332.32" y="514.34" width="6.93" height="6.93" fill="#4856aa"/>
<rect x="339.19" y="514.34" width="6.93" height="6.93" fill="#ffffff"/>
<rect x="222.40" y="521.21" width="6.93" height="6.93" fill="#ec1c24"/>
<rect x="229.27" y="521.21" width="6.93" height="6.93" fill="#ec1c24"/>
<rect x="236.14" y="521.21" width="6.93" height="6.93" fill="#ec1c24"/>
<rect x="243.01" y="521.21" width="6.93" height="6.93" fill="#ec1c24"/>
<rect x="249.88" y="521.21" width="6.93" height="6.93" fill="#f15259"/>
<rect x="256.75" y="521.21" width="6.93" height="6.93" fill="#ec1c24"/>
<rect x="263.62" y="521.21" width="6.93" height="6.93" fill="#ec1c24"/>
<rect x="270.49" y="521.21" width="6.93" height="6.93" fill="#ec1c24"/>
<rect x="277.36" y="521.21" width="6.93" height="6.93" fill="#8c95c9"/>
<rect x="284.23" y="521.21" width="6.93" height="6.93" fill="#4856aa"/>
<rect x="291.10" y="521.21" width="6.93" height="6.93" fill="#b9bfdf"/>
<rect x="297.97" y="521.21" width="6.93" height="6.93" fill="#b9bfdf"/>
<rect x="304.84" y="521.21" width="6.93" height="6.93" fill="#ec1c24"/>
<rect x="311.71" y="521.21" width="6.93" height="6.93" fill="#ffffff"/>
<rect x="318.58" y="521.21" width="6.93" height="6.93" fill="#4856aa"/>
<rect x="325.45" y="521.21" width="6.93" height="6.93" fill="#636fb7"/>
<rect x="332.32" y="521.21" width="6.93" height="6.93" fill="#ffffff"/>
<rect x="339.19" y="521.21" width="6.93" height="6.93" fill="#f68e92"/>
<rect x="222.40" y="528.08" width="6.93" height="6.93" fill="#f68e92"/>
<rect x="229.27" y="528.08" width="6.93" height="6.93" fill="#f15259"/>
<rect x="236.14" y="528.08" width="6.93" height="6.93" fill="#fac6c8"/>
<rect x="243.01" y="528.08" width="6.93" height="6.93" fill="#fde4e5"/>
<rect x="249.88" y="528.08" width="6.93" height="6.93" fill="#fac6c8"/>
<rect x="256.75" y="528.08" width="6.93" height="6.93" fill="#f15259"/>
<rect x="263.62" y="528.08" width="6.93" height="6.93" fill="#b9bfdf"/>
<rect x="270.49" y="528.08" width="6.93" height="6.93" fill="#636fb7"/>
<rect x="277.36" y="528.08" width="6.93" height="6.93" fill="#ec1c24"/>
<rect x="284.23" y="528.08" width="6.93" height="6.93" fill="#b9bfdf"/>
<rect x="291.10" y="528.08" width="6.93" height="6.93" fill="#4856aa"/>
<rect x="297.97" y="528.08" width="6.93" height="6.93" fill="#ffffff"/>
<rect x="304.84" y="528.08" width="6.93" height="6.93" fill="#f68e92"/>
<rect x="311.71" y="528.08" width="6.93" height="6.93" fill="#b9bfdf"/>
<rect x="318.58" y="528.08" width="6.93" height="6.93" fill="#f68e92"/>
<rect x="325.45" y="528.08" width="6.93" height="6.93" fill="#f15259"/>
<rect x="332.32" y="528.08" width="6.93" height="6.93" fill="#f68e92"/>
<rect x="339.19" y="528.08" width="6.93" height="6.93" fill="#f68e92"/>
<rect x="222.40" y="534.95" width="6.93" height="6.93" fill="#e0e2f1"/>
<rect x="229.27" y="534.95" width="6.93" height="6.93" fill="#4856aa"/>
<rect x="236.14" y="534.95" width="6.93" height="6.93" fill="#4856aa"/>
<rect x="243.01" y="534.95" width="6.93" height="6.93" fill="#636fb7"/>
<rect x="249.88" y="534.95" width="6.93" height="6.93" fill="#4856aa"/>
<rect x="256.75" y="534.95" width="6.93" height="6.93" fill="#4856aa"/>
<rect x="263.62" y="534.95" width="6.93" height="6.93" fill="#4856aa"/>
<rect x="270.49" y="534.95" width="6.93" height="6.93" fill="#636fb7"/>
<rect x="277.36" y="534.95" width="6.93" height="6.93" fill="#f15259"/>
<rect x="284.23" y="534.95" width="6.93" height="6.93" fill="#4856aa"/>
<rect x="291.10" y="534.95" width="6.93" height="6.93" fill="#ffffff"/>
<rect x="297.97" y="534.95" width="6.93" height="6.93" fill="#636fb7"/>
<rect x="304.84" y="534.95" width="6.93" height="6.93" fill="#636fb7"/>
<rect x="311.71" y="534.95" width="6.93" height="6.93" fill="#4856aa"/>
<rect x="318.58" y="534.95" width="6.93" height="6.93" fill="#ffffff"/>
<rect x="325.45" y="534.95" width="6.93" height="6.93" fill="#ec1c24"/>
<rect x="332.32" y="534.95" width="6.93" height="6.93" fill="#636fb7"/>
<rect x="339.19" y="534.95" width="6.93" height="6.93" fill="#ec1c24"/>
<rect x="222.40" y="541.82" width="6.93" height="6.93" fill="#636fb7"/>
<rect x="229.27" y="541.82" width="6.93" height="6.93" fill="#ffffff"/>
<rect x="236.14" y="541.82" width="6.93" height="6.93" fill="#4856aa"/>
<rect x="243.01" y="541.82" width="6.93" height="6.93" fill="#4856aa"/>
<rect x="249.88" y="541.82" width="6.93" height="6.93" fill="#4856aa"/>
<rect x="256.75" y="541.82" width="6.93" height="6.93" fill="#b9bfdf"/>
<rect x="263.62" y="541.82" width="6.93" height="6.93" fill="#e0e2f1"/>
<rect x="270.49" y="541.82" width="6.93" height="6.93" fill="#4856aa"/>
<rect x="277.36" y="541.82" width="6.93" height="6.93" fill="#ffffff"/>
<rect x="284.23" y="541.82" width="6.93" height="6.93" fill="#f15259"/>
<rect x="291.10" y="541.82" width="6.93" height="6.93" fill="#4856aa"/>
<rect x="297.97" y="541.82" width="6.93" height="6.93" fill="#fac6c8"/>
<rect x="304.84" y="541.82" width="6.93" height="6.93" fill="#ec1c24"/>
<rect x="311.71" y="541.82" width="6.93" height="6.93" fill="#ffffff"/>
<rect x="318.58" y="541.82" width="6.93" height="6.93" fill="#ec1c24"/>
<rect x="325.45" y="541.82" width="6.93" height="6.93" fill="#e0e2f1"/>
<rect x="332.32" y="541.82" width="6.93" height="6.93" fill="#ec1c24"/>
<rect x="339.19" y="541.82" width="6.93" height="6.93" fill="#f68e92"/>
<rect x="222.40" y="548.69" width="6.93" height="6.93" fill="#b9bfdf"/>
<rect x="229.27" y="548.69" width="6.93" height="6.93" fill="#4856aa"/>
<rect x="236.14" y="548.69" width="6.93" height="6.93" fill="#4856aa"/>
<rect x="243.01" y="548.69" width="6.93" height="6.93" fill="#4856aa"/>
<rect x="249.88" y="548.69" width="6.93" height="6.93" fill="#e0e2f1"/>
<rect x="256.75" y="548.69" width="6.93" height="6.93" fill="#ffffff"/>
<rect x="263.62" y="548.69" width="6.93" height="6.93" fill="#e0e2f1"/>
<rect x="270.49" y="548.69" width="6.93" height="6.93" fill="#8c95c9"/>
<rect x="277.36" y="548.69" width="6.93" height="6.93" fill="#ec1c24"/>
<rect x="284.23" y="548.69" width="6.93" height="6.93" fill="#636fb7"/>
<rect x="291.10" y="548.69" width="6.93" height="6.93" fill="#f68e92"/>
<rect x="297.97" y="548.69" width="6.93" height="6.93" fill="#f68e92"/>
<rect x="304.84" y="548.69" width="6.93" height="6.93" fill="#8c95c9"/>
<rect x="311.71" y="548.69" width="6.93" height="6.93" fill="#636fb7"/>
<rect x="318.58" y="548.69" width="6.93" height="6.93" fill="#ec1c24"/>
<rect x="325.45" y="548.69" width="6.93" height="6.93" fill="#ec1c24"/>
<rect x="332.32" y="548.69" width="6.93" height="6.93" fill="#ec1c24"/>
<rect x="339.19" y="548.69" width="6.93" height="6.93" fill="#ec1c24"/>
<rect x="222.40" y="555.56" width="6.93" height="6.93" fill="#ec1c24"/>
<rect x="229.27" y="555.56" width="6.93" height="6.93" fill="#ec1c24"/>
<rect x="236.14" y="555.56" width="6.93" height="6.93" fill="#ec1c24"/>
<rect x="243.01" y="555.56" width="6.93" height="6.93" fill="#f15259"/>
<rect x="249.88" y="555.56" width="6.93" height="6.93" fill="#ec1c24"/>
<rect x="256.75" y="555.56" width="6.93" height="6.93" fill="#f15259"/>
<rect x="263.62" y="555.56" width="6.93" height="6.93" fill="#f68e92"/>
<rect x="270.49" y="555.56" width="6.93" height="6.93" fill="#ec1c24"/>
<rect x="277.36" y="555.56" width="6.93" height="6.93" fill="#4856aa"/>
<rect x="284.23" y="555.56" width="6.93" height="6.93" fill="#4856aa"/>
<rect x="291.10" y="555.56" width="6.93" height="6.93" fill="#4856aa"/>
<rect x="297.97" y="555.56" width="6.93" height="6.93" fill="#4856aa"/>
<rect x="304.84" y="555.56" width="6.93" height="6.93" fill="#4856aa"/>
<rect x="311.71" y="555.56" width="6.93" height="6.93" fill="#4856aa"/>
<rect x="318.58" y="555.56" width="6.93" height="6.93" fill="#4856aa"/>
<rect x="325.45" y="555.56" width="6.93" height="6.93" fill="#636fb7"/>
<rect x="332.32" y="555.56" width="6.93" height="6.93" fill="#4856aa"/>
<rect x="339.19" y="555.56" width="6.93" height="6.93" fill="#4856aa"/>
<rect x="222.40" y="562.43" width="6.93" height="6.93" fill="#f15259"/>
<rect x="229.27" y="562.43" width="6.93" height="6.93" fill="#ec1c24"/>
<rect x="236.14" y="562.43" width="6.93" height="6.93" fill="#ec1c24"/>
<rect x="243.01" y="562.43" width="6.93" height="6.93" fill="#f15259"/>
<rect x="249.88" y="562.43" width="6.93" height="6.93" fill="#ec1c24"/>
<rect x="256.75" y="562.43" width="6.93" height="6.93" fill="#8c95c9"/>
<rect x="263.62" y="562.43" width="6.93" height="6.93" fill="#ec1c24"/>
<rect x="270.49" y="562.43" width="6.93" height="6.93" fill="#ec1c24"/>
<rect x="277.36" y="562.43" width="6.93" height="6.93" fill="#4856aa"/>
<rect x="284.23" y="562.43" width="6.93" height="6.93" fill="#4856aa"/>
<rect x="291.10" y="562.43" width="6.93" height="6.93" fill="#4856aa"/>
<rect x="297.97" y="562.43" width="6.93" height="6.93" fill="#4856aa"/>
<rect x="304.84" y="562.43" width="6.93" height="6.93" fill="#4856aa"/>
<rect x="311.71" y="562.43" width="6.93" height="6.93" fill="#b9bfdf"/>
<rect x="318.58" y="562.43" width="6.93" height="6.93" fill="#e0e2f1"/>
<rect x="325.45" y="562.43" width="6.93" height="6.93" fill="#636fb7"/>
<rect x="332.32" y="562.43" width="6.93" height="6.93" fill="#636fb7"/>
<rect x="339.19" y="562.43" width="6.93" height="6.93" fill="#4856aa"/>
<rect x="222.40" y="569.30" width="6.93" height="6.93" fill="#f68e92"/>
<rect x="229.27" y="569.30" width="6.93" height="6.93" fill="#fde4e5"/>
<rect x="236.14" y="569.30" width="6.93" height="6.93" fill="#f68e92"/>
<rect x="243.01" y="569.30" width="6.93" height="6.93" fill="#ec1c24"/>
<rect x="249.88" y="569.30" width="6.93" height="6.93" fill="#ec1c24"/>
<rect x="256.75" y="569.30" width="6.93" height="6.93" fill="#ec1c24"/>
<rect x="263.62" y="569.30" width="6.93" height="6.93" fill="#ec1c24"/>
<rect x="270.49" y="569.30" width="6.93" height="6.93" fill="#ec1c24"/>
<rect x="277.36" y="569.30" width="6.93" height="6.93" fill="#4856aa"/>
<rect x="284.23" y="569.30" width="6.93" height="6.93" fill="#4856aa"/>
<rect x="291.10" y="569.30" width="6.93" height="6.93" fill="#4856aa"/>
<rect x="297.97" y="569.30" width="6.93" height="6.93" fill="#b9bfdf"/>
<rect x="304.84" y="569.30" width="6.93" height="6.93" fill="#4856aa"/>
<rect x="311.71" y="569.30" width="6.93" height="6.93" fill="#636fb7"/>
<rect x="318.58" y="569.30" width="6.93" height="6.93" fill="#636fb7"/>
<rect x="325.45" y="569.30" width="6.93" height="6.93" fill="#4856aa"/>
<rect x="332.32" y="569.30" width="6.93" height="6.93" fill="#636fb7"/>
<rect x="339.19" y="569.30" width="6.93" height="6.93" fill="#4856aa"/>
<rect x="222.40" y="576.17" width="6.93" height="6.93" fill="#4856aa"/>
<rect x="229.27" y="576.17" width="6.93" height="6.93" fill="#b9bfdf"/>
<rect x="236.14" y="576.17" width="6.93" height="6.93" fill="#4856aa"/>
<rect x="243.01" y="576.17" width="6.93" height="6.93" fill="#8c95c9"/>
<rect x="249.88" y="576.17" width="6.93" height="6.93" fill="#4856aa"/>
<rect x="256.75" y="576.17" width="6.93" height="6.93" fill="#8c95c9"/>
<rect x="263.62" y="576.17" width="6.93" height="6.93" fill="#b9bfdf"/>
<rect x="270.49" y="576.17" width="6.93" height="6.93" fill="#4856aa"/>
<rect x="277.36" y="576.17" width="6.93" height="6.93" fill="#ec1c24"/>
<rect x="284.23" y="576.17" width="6.93" height="6.93" fill="#ec1c24"/>
<rect x="291.10" y="576.17" width="6.93" height="6.93" fill="#f15259"/>
<rect x="297.97" y="576.17" width="6.93" height="6.93" fill="#ec1c24"/>
<rect x="304.84" y="576.17" width="6.93" height="6.93" fill="#ec1c24"/>
<rect x="311.71" y="576.17" width="6.93" height="6.93" fill="#ec1c24"/>
<rect x="318.58" y="576.17" width="6.93" height="6.93" fill="#ec1c24"/>
<rect x="325.45" y="576.17" width="6.93" height="6.93" fill="#f15259"/>
<rect x="332.32" y="576.17" width="6.93" height="6.93" fill="#f15259"/>
<rect x="339.19" y="576.17" width="6.93" height="6.93" fill="#ec1c24"/>
<rect x="222.40" y="583.04" width="6.93" height="6.93" fill="#4856aa"/>
<rect x="229.27" y="583.04" width="6.93" height="6.93" fill="#4856aa"/>
<rect x="236.14" y="583.04" width="6.93" height="6.93" fill="#636fb7"/>
<rect x="243.01" y="583.04" width="6.93" height="6.93" fill="#4856aa"/>
<rect x="249.88" y="583.04" width="6.93" height="6.93" fill="#b9bfdf"/>
<rect x="256.75" y="583.04" width="6.93" height="6.93" fill="#636fb7"/>
<rect x="263.62" y="583.04" width="6.93" height="6.93" fill="#4856aa"/>
<rect x="270.49" y="583.04" width="6.93" height="6.93" fill="#4856aa"/>
<rect x="277.36" y="583.04" width="6.93" height="6.93" fill="#f68e92"/>
<rect x="284.23" y="583.04" width="6.93" height="6.93" fill="#ec1c24"/>
<rect x="291.10" y="583.04" width="6.93" height="6.93" fill="#ec1c24"/>
<rect x="297.97" y="583.04" width="6.93" height="6.93" fill="#ec1c24"/>
<rect x="304.84" y="583.04" width="6.93" height="6.93" fill="#ec1c24"/>
<rect x="311.71" y="583.04" width="6.93" height="6.93" fill="#ec1c24"/>
<rect x="318.58" y="583.04" width="6.93" height="6.93" fill="#ec1c24"/>
<rect x="325.45" y="583.04" width="6.93" height="6.93" fill="#ec1c24"/>
<rect x="332.32" y="583.04" width="6.93" height="6.93" fill="#ec1c24"/>
<rect x="339.19" y="583.04" width="6.93" height="6.93" fill="#f68e92"/>
<rect x="222.40" y="589.91" width="6.93" height="6.93" fill="#4856aa"/>
<rect x="229.27" y="589.91" width="6.93" height="6.93" fill="#8c95c9"/>
<rect x="236.14" y="589.91" width="6.93" height="6.93" fill="#8c95c9"/>
<rect x="243.01" y="589.91" width="6.93" height="6.93" fill="#4856aa"/>
<rect x="249.88" y="589.91" width="6.93" height="6.93" fill="#4856aa"/>
<rect x="256.75" y="589.91" width="6.93" height="6.93" fill="#636fb7"/>
<rect x="263.62" y="589.91" width="6.93" height="6.93" fill="#636fb7"/>
<rect x="270.49" y="589.91" width="6.93" height="6.93" fill="#b9bfdf"/>
<rect x="277.36" y="589.91" width="6.93" height="6.93" fill="#ec1c24"/>
<rect x="284.23" y="589.91" width="6.93" height="6.93" fill="#ec1c24"/>
<rect x="291.10" y="589.91" width="6.93" height="6.93" fill="#ec1c24"/>
<rect x="297.97" y="589.91" width="6.93" height="6.93" fill="#ec1c24"/>
<rect x="304.84" y="589.91" width="6.93" height="6.93" fill="#ec1c24"/>
<rect x="311.71" y="589.91" width="6.93" height="6.93" fill="#ec1c24"/>
<rect x="318.58" y="589.91" width="6.93" height="6.93" fill="#f15259"/>
<rect x="325.45" y="589.91" width="6.93" height="6.93" fill="#ec1c24"/>
<rect x="332.32" y="589.91" width="6.93" height="6.93" fill="#ec1c24"/>
<rect x="339.19" y="589.91" width="6.93" height="6.93" fill="#fac6c8"/>
<rect x="222.40" y="596.78" width="6.93" height="6.93" fill="#636fb7"/>
<rect x="229.27" y="596.78" width="6.93" height="6.93" fill="#636fb7"/>
<rect x="236.14" y="596.78" width="6.93" height="6.93" fill="#8c95c9"/>
<rect x="243.01" y="596.78" width="6.93" height="6.93" fill="#8c95c9"/>
<rect x="249.88" y="596.78" width="6.93" height="6.93" fill="#b9bfdf"/>
<rect x="256.75" y="596.78" width="6.93" height="6.93" fill="#8c95c9"/>
<rect x="263.62" y="596.78" width="6.93" height="6.93" fill="#8c95c9"/>
<rect x="270.49" y="596.78" width="6.93" height="6.93" fill="#636fb7"/>
<rect x="277.36" y="596.78" width="6.93" height="6.93" fill="#4856aa"/>
<rect x="284.23" y="596.78" width="6.93" height="6.93" fill="#ec1c24"/>
<rect x="291.10" y="596.78" width="6.93" height="6.93" fill="#ec1c24"/>
<rect x="297.97" y="596.78" width="6.93" height="6.93" fill="#ec1c24"/>
<rect x="304.84" y="596.78" width="6.93" height="6.93" fill="#f15259"/>
<rect x="311.71" y="596.78" width="6.93" height="6.93" fill="#fde4e5"/>
<rect x="318.58" y="596.78" width="6.93" height="6.93" fill="#ec1c24"/>
<rect x="325.45" y="596.78" width="6.93" height="6.93" fill="#ffffff"/>
<rect x="332.32" y="596.78" width="6.93" height="6.93" fill="#e0e2f1"/>
<rect x="339.19" y="596.78" width="6.93" height="6.93" fill="#ec1c24"/>
<rect x="222.40" y="603.65" width="6.93" height="6.93" fill="#4856aa"/>
<rect x="229.27" y="603.65" width="6.93" height="6.93" fill="#4856aa"/>
<rect x="236.14" y="603.65" width="6.93" height="6.93" fill="#636fb7"/>
<rect x="243.01" y="603.65" width="6.93" height="6.93" fill="#4856aa"/>
<rect x="249.88" y="603.65" width="6.93" height="6.93" fill="#8c95c9"/>
<rect x="256.75" y="603.65" width="6.93" height="6.93" fill="#636fb7"/>
<rect x="263.62" y="603.65" width="6.93" height="6.93" fill="#4856aa"/>
<rect x="270.49" y="603.65" width="6.93" height="6.93" fill="#8c95c9"/>
<rect x="277.36" y="603.65" width="6.93" height="6.93" fill="#e0e2f1"/>
<rect x="284.23" y="603.65" width="6.93" height="6.93" fill="#636fb7"/>
<rect x="291.10" y="603.65" width="6.93" height="6.93" fill="#ec1c24"/>
<rect x="297.97" y="603.65" width="6.93" height="6.93" fill="#636fb7"/>
<rect x="304.84" y="603.65" width="6.93" height="6.93" fill="#e0e2f1"/>
<rect x="311.71" y="603.65" width="6.93" height="6.93" fill="#ec1c24"/>
<rect x="318.58" y="603.65" width="6.93" height="6.93" fill="#ffffff"/>
<rect x="325.45" y="603.65" width="6.93" height="6.93" fill="#ec1c24"/>
<rect x="332.32" y="603.65" width="6.93" height="6.93" fill="#ec1c24"/>
<rect x="339.19" y="603.65" width="6.93" height="6.93" fill="#ffffff"/>
</g>
<text x="0" y="0" font-size="6.3" fill="#333" transform="translate(228.03 497.9) rotate(-90)">Arhgdib</text>
<text x="0" y="0" font-size="6.3" fill="#333" transform="translate(234.91 497.9) rotate(-90)">Cd86</text>
<text x="0" y="0" font-size="6.3" fill="#333" transform="translate(241.78 497.9) rotate(-90)">Ebi3</text>
<text x="0" y="0" font-size="6.3" fill="#333" transform="translate(248.64 497.9) rotate(-90)">Flt3</text>
<text x="0" y="0" font-size="6.3" fill="#333" transform="translate(255.51 497.9) rotate(-90)">Il15</text>
<text x="0" y="0" font-size="6.3" fill="#333" transform="translate(262.38 497.9) rotate(-90)">Lgals3</text>
<text x="0" y="0" font-size="6.3" fill="#333" transform="translate(269.25 497.9) rotate(-90)">Sox4</text>
<text x="0" y="0" font-size="6.3" fill="#333" transform="translate(276.12 497.9) rotate(-90)">Tnfrsf13c</text>
<text x="0" y="0" font-size="6.3" fill="#333" transform="translate(283.00 497.9) rotate(-90)">Blnk</text>
<text x="0" y="0" font-size="6.3" fill="#333" transform="translate(289.87 497.9) rotate(-90)">Cd28</text>
<text x="0" y="0" font-size="6.3" fill="#333" transform="translate(296.74 497.9) rotate(-90)">Ctla4</text>
<text x="0" y="0" font-size="6.3" fill="#333" transform="translate(303.60 497.9) rotate(-90)">Egr3</text>
<text x="0" y="0" font-size="6.3" fill="#333" transform="translate(310.47 497.9) rotate(-90)">Il7r</text>
<text x="0" y="0" font-size="6.3" fill="#333" transform="translate(317.34 497.9) rotate(-90)">Nfatc2</text>
<text x="0" y="0" font-size="6.3" fill="#333" transform="translate(324.21 497.9) rotate(-90)">Pbx1</text>
<text x="0" y="0" font-size="6.3" fill="#333" transform="translate(331.08 497.9) rotate(-90)">Rftn1</text>
<text x="0" y="0" font-size="6.3" fill="#333" transform="translate(337.95 497.9) rotate(-90)">Sh3rf1</text>
<text x="0" y="0" font-size="6.3" fill="#333" transform="translate(344.82 497.9) rotate(-90)">Socs1</text>
<rect x="277.36" y="471.8" width="68.70" height="139.02" rx="0.8" fill="none" stroke="#2a2a2a" stroke-width="1.0"/>
<g shape-rendering="crispEdges">
<rect x="357.80" y="500.60" width="6.93" height="6.93" fill="#4856aa"/>
<rect x="364.67" y="500.60" width="6.93" height="6.93" fill="#4856aa"/>
<rect x="371.54" y="500.60" width="6.93" height="6.93" fill="#636fb7"/>
<rect x="378.41" y="500.60" width="6.93" height="6.93" fill="#8c95c9"/>
<rect x="385.28" y="500.60" width="6.93" height="6.93" fill="#f15259"/>
<rect x="392.15" y="500.60" width="6.93" height="6.93" fill="#8c95c9"/>
<rect x="399.02" y="500.60" width="6.93" height="6.93" fill="#4856aa"/>
<rect x="405.89" y="500.60" width="6.93" height="6.93" fill="#4856aa"/>
<rect x="412.76" y="500.60" width="6.93" height="6.93" fill="#b9bfdf"/>
<rect x="419.63" y="500.60" width="6.93" height="6.93" fill="#636fb7"/>
<rect x="426.50" y="500.60" width="6.93" height="6.93" fill="#4856aa"/>
<rect x="357.80" y="507.47" width="6.93" height="6.93" fill="#8c95c9"/>
<rect x="364.67" y="507.47" width="6.93" height="6.93" fill="#f15259"/>
<rect x="371.54" y="507.47" width="6.93" height="6.93" fill="#4856aa"/>
<rect x="378.41" y="507.47" width="6.93" height="6.93" fill="#4856aa"/>
<rect x="385.28" y="507.47" width="6.93" height="6.93" fill="#4856aa"/>
<rect x="392.15" y="507.47" width="6.93" height="6.93" fill="#b9bfdf"/>
<rect x="399.02" y="507.47" width="6.93" height="6.93" fill="#fac6c8"/>
<rect x="405.89" y="507.47" width="6.93" height="6.93" fill="#f15259"/>
<rect x="412.76" y="507.47" width="6.93" height="6.93" fill="#4856aa"/>
<rect x="419.63" y="507.47" width="6.93" height="6.93" fill="#ffffff"/>
<rect x="426.50" y="507.47" width="6.93" height="6.93" fill="#ffffff"/>
<rect x="357.80" y="514.34" width="6.93" height="6.93" fill="#4856aa"/>
<rect x="364.67" y="514.34" width="6.93" height="6.93" fill="#ffffff"/>
<rect x="371.54" y="514.34" width="6.93" height="6.93" fill="#636fb7"/>
<rect x="378.41" y="514.34" width="6.93" height="6.93" fill="#636fb7"/>
<rect x="385.28" y="514.34" width="6.93" height="6.93" fill="#f15259"/>
<rect x="392.15" y="514.34" width="6.93" height="6.93" fill="#ec1c24"/>
<rect x="399.02" y="514.34" width="6.93" height="6.93" fill="#ffffff"/>
<rect x="405.89" y="514.34" width="6.93" height="6.93" fill="#8c95c9"/>
<rect x="412.76" y="514.34" width="6.93" height="6.93" fill="#8c95c9"/>
<rect x="419.63" y="514.34" width="6.93" height="6.93" fill="#4856aa"/>
<rect x="426.50" y="514.34" width="6.93" height="6.93" fill="#4856aa"/>
<rect x="357.80" y="521.21" width="6.93" height="6.93" fill="#4856aa"/>
<rect x="364.67" y="521.21" width="6.93" height="6.93" fill="#fac6c8"/>
<rect x="371.54" y="521.21" width="6.93" height="6.93" fill="#4856aa"/>
<rect x="378.41" y="521.21" width="6.93" height="6.93" fill="#4856aa"/>
<rect x="385.28" y="521.21" width="6.93" height="6.93" fill="#4856aa"/>
<rect x="392.15" y="521.21" width="6.93" height="6.93" fill="#8c95c9"/>
<rect x="399.02" y="521.21" width="6.93" height="6.93" fill="#636fb7"/>
<rect x="405.89" y="521.21" width="6.93" height="6.93" fill="#f68e92"/>
<rect x="412.76" y="521.21" width="6.93" height="6.93" fill="#4856aa"/>
<rect x="419.63" y="521.21" width="6.93" height="6.93" fill="#4856aa"/>
<rect x="426.50" y="521.21" width="6.93" height="6.93" fill="#636fb7"/>
<rect x="357.80" y="528.08" width="6.93" height="6.93" fill="#ec1c24"/>
<rect x="364.67" y="528.08" width="6.93" height="6.93" fill="#8c95c9"/>
<rect x="371.54" y="528.08" width="6.93" height="6.93" fill="#f15259"/>
<rect x="378.41" y="528.08" width="6.93" height="6.93" fill="#fac6c8"/>
<rect x="385.28" y="528.08" width="6.93" height="6.93" fill="#ffffff"/>
<rect x="392.15" y="528.08" width="6.93" height="6.93" fill="#8c95c9"/>
<rect x="399.02" y="528.08" width="6.93" height="6.93" fill="#ffffff"/>
<rect x="405.89" y="528.08" width="6.93" height="6.93" fill="#ec1c24"/>
<rect x="412.76" y="528.08" width="6.93" height="6.93" fill="#f68e92"/>
<rect x="419.63" y="528.08" width="6.93" height="6.93" fill="#f15259"/>
<rect x="426.50" y="528.08" width="6.93" height="6.93" fill="#ec1c24"/>
<rect x="357.80" y="534.95" width="6.93" height="6.93" fill="#ec1c24"/>
<rect x="364.67" y="534.95" width="6.93" height="6.93" fill="#636fb7"/>
<rect x="371.54" y="534.95" width="6.93" height="6.93" fill="#ec1c24"/>
<rect x="378.41" y="534.95" width="6.93" height="6.93" fill="#ec1c24"/>
<rect x="385.28" y="534.95" width="6.93" height="6.93" fill="#ec1c24"/>
<rect x="392.15" y="534.95" width="6.93" height="6.93" fill="#636fb7"/>
<rect x="399.02" y="534.95" width="6.93" height="6.93" fill="#f15259"/>
<rect x="405.89" y="534.95" width="6.93" height="6.93" fill="#ec1c24"/>
<rect x="412.76" y="534.95" width="6.93" height="6.93" fill="#f68e92"/>
<rect x="419.63" y="534.95" width="6.93" height="6.93" fill="#fac6c8"/>
<rect x="426.50" y="534.95" width="6.93" height="6.93" fill="#f15259"/>
<rect x="357.80" y="541.82" width="6.93" height="6.93" fill="#f68e92"/>
<rect x="364.67" y="541.82" width="6.93" height="6.93" fill="#fac6c8"/>
<rect x="371.54" y="541.82" width="6.93" height="6.93" fill="#ec1c24"/>
<rect x="378.41" y="541.82" width="6.93" height="6.93" fill="#ec1c24"/>
<rect x="385.28" y="541.82" width="6.93" height="6.93" fill="#f68e92"/>
<rect x="392.15" y="541.82" width="6.93" height="6.93" fill="#f15259"/>
<rect x="399.02" y="541.82" width="6.93" height="6.93" fill="#636fb7"/>
<rect x="405.89" y="541.82" width="6.93" height="6.93" fill="#f15259"/>
<rect x="412.76" y="541.82" width="6.93" height="6.93" fill="#ec1c24"/>
<rect x="419.63" y="541.82" width="6.93" height="6.93" fill="#ec1c24"/>
<rect x="426.50" y="541.82" width="6.93" height="6.93" fill="#fac6c8"/>
<rect x="357.80" y="548.69" width="6.93" height="6.93" fill="#fac6c8"/>
<rect x="364.67" y="548.69" width="6.93" height="6.93" fill="#f68e92"/>
<rect x="371.54" y="548.69" width="6.93" height="6.93" fill="#ec1c24"/>
<rect x="378.41" y="548.69" width="6.93" height="6.93" fill="#ec1c24"/>
<rect x="385.28" y="548.69" width="6.93" height="6.93" fill="#ec1c24"/>
<rect x="392.15" y="548.69" width="6.93" height="6.93" fill="#f68e92"/>
<rect x="399.02" y="548.69" width="6.93" height="6.93" fill="#ec1c24"/>
<rect x="405.89" y="548.69" width="6.93" height="6.93" fill="#ec1c24"/>
<rect x="412.76" y="548.69" width="6.93" height="6.93" fill="#ec1c24"/>
<rect x="419.63" y="548.69" width="6.93" height="6.93" fill="#ec1c24"/>
<rect x="426.50" y="548.69" width="6.93" height="6.93" fill="#fac6c8"/>
<rect x="357.80" y="555.56" width="6.93" height="6.93" fill="#4856aa"/>
<rect x="364.67" y="555.56" width="6.93" height="6.93" fill="#4856aa"/>
<rect x="371.54" y="555.56" width="6.93" height="6.93" fill="#4856aa"/>
<rect x="378.41" y="555.56" width="6.93" height="6.93" fill="#4856aa"/>
<rect x="385.28" y="555.56" width="6.93" height="6.93" fill="#636fb7"/>
<rect x="392.15" y="555.56" width="6.93" height="6.93" fill="#4856aa"/>
<rect x="399.02" y="555.56" width="6.93" height="6.93" fill="#4856aa"/>
<rect x="405.89" y="555.56" width="6.93" height="6.93" fill="#4856aa"/>
<rect x="412.76" y="555.56" width="6.93" height="6.93" fill="#4856aa"/>
<rect x="419.63" y="555.56" width="6.93" height="6.93" fill="#b9bfdf"/>
<rect x="426.50" y="555.56" width="6.93" height="6.93" fill="#4856aa"/>
<rect x="357.80" y="562.43" width="6.93" height="6.93" fill="#8c95c9"/>
<rect x="364.67" y="562.43" width="6.93" height="6.93" fill="#8c95c9"/>
<rect x="371.54" y="562.43" width="6.93" height="6.93" fill="#636fb7"/>
<rect x="378.41" y="562.43" width="6.93" height="6.93" fill="#4856aa"/>
<rect x="385.28" y="562.43" width="6.93" height="6.93" fill="#636fb7"/>
<rect x="392.15" y="562.43" width="6.93" height="6.93" fill="#8c95c9"/>
<rect x="399.02" y="562.43" width="6.93" height="6.93" fill="#4856aa"/>
<rect x="405.89" y="562.43" width="6.93" height="6.93" fill="#4856aa"/>
<rect x="412.76" y="562.43" width="6.93" height="6.93" fill="#ffffff"/>
<rect x="419.63" y="562.43" width="6.93" height="6.93" fill="#ffffff"/>
<rect x="426.50" y="562.43" width="6.93" height="6.93" fill="#ec1c24"/>
<rect x="357.80" y="569.30" width="6.93" height="6.93" fill="#636fb7"/>
<rect x="364.67" y="569.30" width="6.93" height="6.93" fill="#ffffff"/>
<rect x="371.54" y="569.30" width="6.93" height="6.93" fill="#636fb7"/>
<rect x="378.41" y="569.30" width="6.93" height="6.93" fill="#636fb7"/>
<rect x="385.28" y="569.30" width="6.93" height="6.93" fill="#4856aa"/>
<rect x="392.15" y="569.30" width="6.93" height="6.93" fill="#636fb7"/>
<rect x="399.02" y="569.30" width="6.93" height="6.93" fill="#4856aa"/>
<rect x="405.89" y="569.30" width="6.93" height="6.93" fill="#8c95c9"/>
<rect x="412.76" y="569.30" width="6.93" height="6.93" fill="#ffffff"/>
<rect x="419.63" y="569.30" width="6.93" height="6.93" fill="#8c95c9"/>
<rect x="426.50" y="569.30" width="6.93" height="6.93" fill="#f68e92"/>
<rect x="357.80" y="576.17" width="6.93" height="6.93" fill="#ec1c24"/>
<rect x="364.67" y="576.17" width="6.93" height="6.93" fill="#ec1c24"/>
<rect x="371.54" y="576.17" width="6.93" height="6.93" fill="#ec1c24"/>
<rect x="378.41" y="576.17" width="6.93" height="6.93" fill="#ec1c24"/>
<rect x="385.28" y="576.17" width="6.93" height="6.93" fill="#f68e92"/>
<rect x="392.15" y="576.17" width="6.93" height="6.93" fill="#ec1c24"/>
<rect x="399.02" y="576.17" width="6.93" height="6.93" fill="#ec1c24"/>
<rect x="405.89" y="576.17" width="6.93" height="6.93" fill="#fac6c8"/>
<rect x="412.76" y="576.17" width="6.93" height="6.93" fill="#f15259"/>
<rect x="419.63" y="576.17" width="6.93" height="6.93" fill="#fac6c8"/>
<rect x="426.50" y="576.17" width="6.93" height="6.93" fill="#ec1c24"/>
<rect x="357.80" y="583.04" width="6.93" height="6.93" fill="#f15259"/>
<rect x="364.67" y="583.04" width="6.93" height="6.93" fill="#ffffff"/>
<rect x="371.54" y="583.04" width="6.93" height="6.93" fill="#f15259"/>
<rect x="378.41" y="583.04" width="6.93" height="6.93" fill="#ec1c24"/>
<rect x="385.28" y="583.04" width="6.93" height="6.93" fill="#ec1c24"/>
<rect x="392.15" y="583.04" width="6.93" height="6.93" fill="#ec1c24"/>
<rect x="399.02" y="583.04" width="6.93" height="6.93" fill="#f68e92"/>
<rect x="405.89" y="583.04" width="6.93" height="6.93" fill="#fac6c8"/>
<rect x="412.76" y="583.04" width="6.93" height="6.93" fill="#fac6c8"/>
<rect x="419.63" y="583.04" width="6.93" height="6.93" fill="#ec1c24"/>
<rect x="426.50" y="583.04" width="6.93" height="6.93" fill="#ffffff"/>
<rect x="357.80" y="589.91" width="6.93" height="6.93" fill="#ffffff"/>
<rect x="364.67" y="589.91" width="6.93" height="6.93" fill="#ec1c24"/>
<rect x="371.54" y="589.91" width="6.93" height="6.93" fill="#f15259"/>
<rect x="378.41" y="589.91" width="6.93" height="6.93" fill="#ec1c24"/>
<rect x="385.28" y="589.91" width="6.93" height="6.93" fill="#f68e92"/>
<rect x="392.15" y="589.91" width="6.93" height="6.93" fill="#ec1c24"/>
<rect x="399.02" y="589.91" width="6.93" height="6.93" fill="#ec1c24"/>
<rect x="405.89" y="589.91" width="6.93" height="6.93" fill="#fac6c8"/>
<rect x="412.76" y="589.91" width="6.93" height="6.93" fill="#ec1c24"/>
<rect x="419.63" y="589.91" width="6.93" height="6.93" fill="#f15259"/>
<rect x="426.50" y="589.91" width="6.93" height="6.93" fill="#ffffff"/>
<rect x="357.80" y="596.78" width="6.93" height="6.93" fill="#ec1c24"/>
<rect x="364.67" y="596.78" width="6.93" height="6.93" fill="#ec1c24"/>
<rect x="371.54" y="596.78" width="6.93" height="6.93" fill="#ec1c24"/>
<rect x="378.41" y="596.78" width="6.93" height="6.93" fill="#ec1c24"/>
<rect x="385.28" y="596.78" width="6.93" height="6.93" fill="#fac6c8"/>
<rect x="392.15" y="596.78" width="6.93" height="6.93" fill="#fac6c8"/>
<rect x="399.02" y="596.78" width="6.93" height="6.93" fill="#ec1c24"/>
<rect x="405.89" y="596.78" width="6.93" height="6.93" fill="#b9bfdf"/>
<rect x="412.76" y="596.78" width="6.93" height="6.93" fill="#f15259"/>
<rect x="419.63" y="596.78" width="6.93" height="6.93" fill="#b9bfdf"/>
<rect x="426.50" y="596.78" width="6.93" height="6.93" fill="#f68e92"/>
<rect x="357.80" y="603.65" width="6.93" height="6.93" fill="#f15259"/>
<rect x="364.67" y="603.65" width="6.93" height="6.93" fill="#ec1c24"/>
<rect x="371.54" y="603.65" width="6.93" height="6.93" fill="#f15259"/>
<rect x="378.41" y="603.65" width="6.93" height="6.93" fill="#ec1c24"/>
<rect x="385.28" y="603.65" width="6.93" height="6.93" fill="#ec1c24"/>
<rect x="392.15" y="603.65" width="6.93" height="6.93" fill="#f15259"/>
<rect x="399.02" y="603.65" width="6.93" height="6.93" fill="#ec1c24"/>
<rect x="405.89" y="603.65" width="6.93" height="6.93" fill="#b9bfdf"/>
<rect x="412.76" y="603.65" width="6.93" height="6.93" fill="#ffffff"/>
<rect x="419.63" y="603.65" width="6.93" height="6.93" fill="#ec1c24"/>
<rect x="426.50" y="603.65" width="6.93" height="6.93" fill="#ec1c24"/>
</g>
<text x="0" y="0" font-size="6.3" fill="#333" transform="translate(363.44 497.9) rotate(-90)">Anxa7</text>
<text x="0" y="0" font-size="6.3" fill="#333" transform="translate(370.31 497.9) rotate(-90)">Cebpb</text>
<text x="0" y="0" font-size="6.3" fill="#333" transform="translate(377.18 497.9) rotate(-90)">Osmr</text>
<text x="0" y="0" font-size="6.3" fill="#333" transform="translate(384.05 497.9) rotate(-90)">Plscr2</text>
<text x="0" y="0" font-size="6.3" fill="#333" transform="translate(390.92 497.9) rotate(-90)">Pml</text>
<text x="0" y="0" font-size="6.3" fill="#333" transform="translate(397.79 497.9) rotate(-90)">Runx1</text>
<text x="0" y="0" font-size="6.3" fill="#333" transform="translate(404.66 497.9) rotate(-90)">Thbd</text>
<text x="0" y="0" font-size="6.3" fill="#333" transform="translate(411.52 497.9) rotate(-90)">Csf3r</text>
<text x="0" y="0" font-size="6.3" fill="#333" transform="translate(418.39 497.9) rotate(-90)">Eto</text>
<text x="0" y="0" font-size="6.3" fill="#333" transform="translate(425.26 497.9) rotate(-90)">Hoxb6</text>
<text x="0" y="0" font-size="6.3" fill="#333" transform="translate(432.13 497.9) rotate(-90)">Meis2</text>
<rect x="405.89" y="471.8" width="27.48" height="139.02" rx="0.8" fill="none" stroke="#2a2a2a" stroke-width="1.0"/>
<g shape-rendering="crispEdges">
<rect x="443.50" y="500.60" width="6.93" height="6.93" fill="#4856aa"/>
<rect x="450.37" y="500.60" width="6.93" height="6.93" fill="#4856aa"/>
<rect x="457.24" y="500.60" width="6.93" height="6.93" fill="#ffffff"/>
<rect x="464.11" y="500.60" width="6.93" height="6.93" fill="#4856aa"/>
<rect x="470.98" y="500.60" width="6.93" height="6.93" fill="#4856aa"/>
<rect x="477.85" y="500.60" width="6.93" height="6.93" fill="#636fb7"/>
<rect x="484.72" y="500.60" width="6.93" height="6.93" fill="#ffffff"/>
<rect x="491.59" y="500.60" width="6.93" height="6.93" fill="#636fb7"/>
<rect x="498.46" y="500.60" width="6.93" height="6.93" fill="#4856aa"/>
<rect x="443.50" y="507.47" width="6.93" height="6.93" fill="#4856aa"/>
<rect x="450.37" y="507.47" width="6.93" height="6.93" fill="#8c95c9"/>
<rect x="457.24" y="507.47" width="6.93" height="6.93" fill="#4856aa"/>
<rect x="464.11" y="507.47" width="6.93" height="6.93" fill="#4856aa"/>
<rect x="470.98" y="507.47" width="6.93" height="6.93" fill="#4856aa"/>
<rect x="477.85" y="507.47" width="6.93" height="6.93" fill="#636fb7"/>
<rect x="484.72" y="507.47" width="6.93" height="6.93" fill="#e0e2f1"/>
<rect x="491.59" y="507.47" width="6.93" height="6.93" fill="#8c95c9"/>
<rect x="498.46" y="507.47" width="6.93" height="6.93" fill="#4856aa"/>
<rect x="443.50" y="514.34" width="6.93" height="6.93" fill="#8c95c9"/>
<rect x="450.37" y="514.34" width="6.93" height="6.93" fill="#4856aa"/>
<rect x="457.24" y="514.34" width="6.93" height="6.93" fill="#fac6c8"/>
<rect x="464.11" y="514.34" width="6.93" height="6.93" fill="#636fb7"/>
<rect x="470.98" y="514.34" width="6.93" height="6.93" fill="#4856aa"/>
<rect x="477.85" y="514.34" width="6.93" height="6.93" fill="#4856aa"/>
<rect x="484.72" y="514.34" width="6.93" height="6.93" fill="#8c95c9"/>
<rect x="491.59" y="514.34" width="6.93" height="6.93" fill="#8c95c9"/>
<rect x="498.46" y="514.34" width="6.93" height="6.93" fill="#8c95c9"/>
<rect x="443.50" y="521.21" width="6.93" height="6.93" fill="#4856aa"/>
<rect x="450.37" y="521.21" width="6.93" height="6.93" fill="#8c95c9"/>
<rect x="457.24" y="521.21" width="6.93" height="6.93" fill="#4856aa"/>
<rect x="464.11" y="521.21" width="6.93" height="6.93" fill="#4856aa"/>
<rect x="470.98" y="521.21" width="6.93" height="6.93" fill="#636fb7"/>
<rect x="477.85" y="521.21" width="6.93" height="6.93" fill="#b9bfdf"/>
<rect x="484.72" y="521.21" width="6.93" height="6.93" fill="#4856aa"/>
<rect x="491.59" y="521.21" width="6.93" height="6.93" fill="#4856aa"/>
<rect x="498.46" y="521.21" width="6.93" height="6.93" fill="#4856aa"/>
<rect x="443.50" y="528.08" width="6.93" height="6.93" fill="#f68e92"/>
<rect x="450.37" y="528.08" width="6.93" height="6.93" fill="#f15259"/>
<rect x="457.24" y="528.08" width="6.93" height="6.93" fill="#f15259"/>
<rect x="464.11" y="528.08" width="6.93" height="6.93" fill="#ec1c24"/>
<rect x="470.98" y="528.08" width="6.93" height="6.93" fill="#f15259"/>
<rect x="477.85" y="528.08" width="6.93" height="6.93" fill="#ec1c24"/>
<rect x="484.72" y="528.08" width="6.93" height="6.93" fill="#ec1c24"/>
<rect x="491.59" y="528.08" width="6.93" height="6.93" fill="#fac6c8"/>
<rect x="498.46" y="528.08" width="6.93" height="6.93" fill="#ffffff"/>
<rect x="443.50" y="534.95" width="6.93" height="6.93" fill="#ec1c24"/>
<rect x="450.37" y="534.95" width="6.93" height="6.93" fill="#ec1c24"/>
<rect x="457.24" y="534.95" width="6.93" height="6.93" fill="#ec1c24"/>
<rect x="464.11" y="534.95" width="6.93" height="6.93" fill="#ec1c24"/>
<rect x="470.98" y="534.95" width="6.93" height="6.93" fill="#ec1c24"/>
<rect x="477.85" y="534.95" width="6.93" height="6.93" fill="#ec1c24"/>
<rect x="484.72" y="534.95" width="6.93" height="6.93" fill="#ec1c24"/>
<rect x="491.59" y="534.95" width="6.93" height="6.93" fill="#ec1c24"/>
<rect x="498.46" y="534.95" width="6.93" height="6.93" fill="#f15259"/>
<rect x="443.50" y="541.82" width="6.93" height="6.93" fill="#ec1c24"/>
<rect x="450.37" y="541.82" width="6.93" height="6.93" fill="#f68e92"/>
<rect x="457.24" y="541.82" width="6.93" height="6.93" fill="#ffffff"/>
<rect x="464.11" y="541.82" width="6.93" height="6.93" fill="#ec1c24"/>
<rect x="470.98" y="541.82" width="6.93" height="6.93" fill="#ec1c24"/>
<rect x="477.85" y="541.82" width="6.93" height="6.93" fill="#ec1c24"/>
<rect x="484.72" y="541.82" width="6.93" height="6.93" fill="#ec1c24"/>
<rect x="491.59" y="541.82" width="6.93" height="6.93" fill="#ec1c24"/>
<rect x="498.46" y="541.82" width="6.93" height="6.93" fill="#f15259"/>
<rect x="443.50" y="548.69" width="6.93" height="6.93" fill="#f68e92"/>
<rect x="450.37" y="548.69" width="6.93" height="6.93" fill="#ec1c24"/>
<rect x="457.24" y="548.69" width="6.93" height="6.93" fill="#ec1c24"/>
<rect x="464.11" y="548.69" width="6.93" height="6.93" fill="#ec1c24"/>
<rect x="470.98" y="548.69" width="6.93" height="6.93" fill="#ec1c24"/>
<rect x="477.85" y="548.69" width="6.93" height="6.93" fill="#f15259"/>
<rect x="484.72" y="548.69" width="6.93" height="6.93" fill="#ec1c24"/>
<rect x="491.59" y="548.69" width="6.93" height="6.93" fill="#f15259"/>
<rect x="498.46" y="548.69" width="6.93" height="6.93" fill="#ec1c24"/>
<rect x="443.50" y="555.56" width="6.93" height="6.93" fill="#4856aa"/>
<rect x="450.37" y="555.56" width="6.93" height="6.93" fill="#4856aa"/>
<rect x="457.24" y="555.56" width="6.93" height="6.93" fill="#f15259"/>
<rect x="464.11" y="555.56" width="6.93" height="6.93" fill="#4856aa"/>
<rect x="470.98" y="555.56" width="6.93" height="6.93" fill="#4856aa"/>
<rect x="477.85" y="555.56" width="6.93" height="6.93" fill="#4856aa"/>
<rect x="484.72" y="555.56" width="6.93" height="6.93" fill="#fde4e5"/>
<rect x="491.59" y="555.56" width="6.93" height="6.93" fill="#636fb7"/>
<rect x="498.46" y="555.56" width="6.93" height="6.93" fill="#b9bfdf"/>
<rect x="443.50" y="562.43" width="6.93" height="6.93" fill="#4856aa"/>
<rect x="450.37" y="562.43" width="6.93" height="6.93" fill="#4856aa"/>
<rect x="457.24" y="562.43" width="6.93" height="6.93" fill="#4856aa"/>
<rect x="464.11" y="562.43" width="6.93" height="6.93" fill="#4856aa"/>
<rect x="470.98" y="562.43" width="6.93" height="6.93" fill="#4856aa"/>
<rect x="477.85" y="562.43" width="6.93" height="6.93" fill="#4856aa"/>
<rect x="484.72" y="562.43" width="6.93" height="6.93" fill="#e0e2f1"/>
<rect x="491.59" y="562.43" width="6.93" height="6.93" fill="#b9bfdf"/>
<rect x="498.46" y="562.43" width="6.93" height="6.93" fill="#ec1c24"/>
<rect x="443.50" y="569.30" width="6.93" height="6.93" fill="#fde4e5"/>
<rect x="450.37" y="569.30" width="6.93" height="6.93" fill="#4856aa"/>
<rect x="457.24" y="569.30" width="6.93" height="6.93" fill="#4856aa"/>
<rect x="464.11" y="569.30" width="6.93" height="6.93" fill="#4856aa"/>
<rect x="470.98" y="569.30" width="6.93" height="6.93" fill="#4856aa"/>
<rect x="477.85" y="569.30" width="6.93" height="6.93" fill="#4856aa"/>
<rect x="484.72" y="569.30" width="6.93" height="6.93" fill="#4856aa"/>
<rect x="491.59" y="569.30" width="6.93" height="6.93" fill="#8c95c9"/>
<rect x="498.46" y="569.30" width="6.93" height="6.93" fill="#ec1c24"/>
<rect x="443.50" y="576.17" width="6.93" height="6.93" fill="#f68e92"/>
<rect x="450.37" y="576.17" width="6.93" height="6.93" fill="#f15259"/>
<rect x="457.24" y="576.17" width="6.93" height="6.93" fill="#f68e92"/>
<rect x="464.11" y="576.17" width="6.93" height="6.93" fill="#f68e92"/>
<rect x="470.98" y="576.17" width="6.93" height="6.93" fill="#ec1c24"/>
<rect x="477.85" y="576.17" width="6.93" height="6.93" fill="#f15259"/>
<rect x="484.72" y="576.17" width="6.93" height="6.93" fill="#fde4e5"/>
<rect x="491.59" y="576.17" width="6.93" height="6.93" fill="#fde4e5"/>
<rect x="498.46" y="576.17" width="6.93" height="6.93" fill="#4856aa"/>
<rect x="443.50" y="583.04" width="6.93" height="6.93" fill="#f68e92"/>
<rect x="450.37" y="583.04" width="6.93" height="6.93" fill="#ec1c24"/>
<rect x="457.24" y="583.04" width="6.93" height="6.93" fill="#ec1c24"/>
<rect x="464.11" y="583.04" width="6.93" height="6.93" fill="#ec1c24"/>
<rect x="470.98" y="583.04" width="6.93" height="6.93" fill="#ec1c24"/>
<rect x="477.85" y="583.04" width="6.93" height="6.93" fill="#ec1c24"/>
<rect x="484.72" y="583.04" width="6.93" height="6.93" fill="#f68e92"/>
<rect x="491.59" y="583.04" width="6.93" height="6.93" fill="#f15259"/>
<rect x="498.46" y="583.04" width="6.93" height="6.93" fill="#fde4e5"/>
<rect x="443.50" y="589.91" width="6.93" height="6.93" fill="#f15259"/>
<rect x="450.37" y="589.91" width="6.93" height="6.93" fill="#ec1c24"/>
<rect x="457.24" y="589.91" width="6.93" height="6.93" fill="#ec1c24"/>
<rect x="464.11" y="589.91" width="6.93" height="6.93" fill="#f15259"/>
<rect x="470.98" y="589.91" width="6.93" height="6.93" fill="#ec1c24"/>
<rect x="477.85" y="589.91" width="6.93" height="6.93" fill="#f15259"/>
<rect x="484.72" y="589.91" width="6.93" height="6.93" fill="#e0e2f1"/>
<rect x="491.59" y="589.91" width="6.93" height="6.93" fill="#8c95c9"/>
<rect x="498.46" y="589.91" width="6.93" height="6.93" fill="#b9bfdf"/>
<rect x="443.50" y="596.78" width="6.93" height="6.93" fill="#ec1c24"/>
<rect x="450.37" y="596.78" width="6.93" height="6.93" fill="#f15259"/>
<rect x="457.24" y="596.78" width="6.93" height="6.93" fill="#ffffff"/>
<rect x="464.11" y="596.78" width="6.93" height="6.93" fill="#f15259"/>
<rect x="470.98" y="596.78" width="6.93" height="6.93" fill="#f15259"/>
<rect x="477.85" y="596.78" width="6.93" height="6.93" fill="#ffffff"/>
<rect x="484.72" y="596.78" width="6.93" height="6.93" fill="#4856aa"/>
<rect x="491.59" y="596.78" width="6.93" height="6.93" fill="#ec1c24"/>
<rect x="498.46" y="596.78" width="6.93" height="6.93" fill="#f15259"/>
<rect x="443.50" y="603.65" width="6.93" height="6.93" fill="#ec1c24"/>
<rect x="450.37" y="603.65" width="6.93" height="6.93" fill="#ec1c24"/>
<rect x="457.24" y="603.65" width="6.93" height="6.93" fill="#ec1c24"/>
<rect x="464.11" y="603.65" width="6.93" height="6.93" fill="#ec1c24"/>
<rect x="470.98" y="603.65" width="6.93" height="6.93" fill="#ec1c24"/>
<rect x="477.85" y="603.65" width="6.93" height="6.93" fill="#f15259"/>
<rect x="484.72" y="603.65" width="6.93" height="6.93" fill="#f68e92"/>
<rect x="491.59" y="603.65" width="6.93" height="6.93" fill="#f68e92"/>
<rect x="498.46" y="603.65" width="6.93" height="6.93" fill="#fde4e5"/>
</g>
<text x="0" y="0" font-size="6.3" fill="#333" transform="translate(449.13 497.9) rotate(-90)">Adgrg2</text>
<text x="0" y="0" font-size="6.3" fill="#333" transform="translate(456.00 497.9) rotate(-90)">Clu</text>
<text x="0" y="0" font-size="6.3" fill="#333" transform="translate(462.88 497.9) rotate(-90)">Itga2b</text>
<text x="0" y="0" font-size="6.3" fill="#333" transform="translate(469.75 497.9) rotate(-90)">Itgb3</text>
<text x="0" y="0" font-size="6.3" fill="#333" transform="translate(476.62 497.9) rotate(-90)">Selp</text>
<text x="0" y="0" font-size="6.3" fill="#333" transform="translate(483.49 497.9) rotate(-90)">Vwf</text>
<text x="0" y="0" font-size="6.3" fill="#333" transform="translate(490.35 497.9) rotate(-90)">Emilin1</text>
<text x="0" y="0" font-size="6.3" fill="#333" transform="translate(497.22 497.9) rotate(-90)">Pros1</text>
<text x="0" y="0" font-size="6.3" fill="#333" transform="translate(504.09 497.9) rotate(-90)">Timp3</text>
<rect x="484.72" y="471.8" width="20.61" height="139.02" rx="0.8" fill="none" stroke="#2a2a2a" stroke-width="1.0"/>
<defs><linearGradient id="zg" x1="0" x2="1" y1="0" y2="0"><stop offset="0" stop-color="#2b3fa0"/><stop offset="0.5" stop-color="#ffffff"/><stop offset="1" stop-color="#e8101a"/></linearGradient></defs>
<rect x="477.1" y="621.2" width="27.1" height="4.0" fill="url(#zg)"/>
<text x="477.40" y="629.80" font-size="5.2" text-anchor="middle" fill="#444">-1</text>
<text x="504.60" y="629.80" font-size="5.2" text-anchor="middle" fill="#444">+1</text>
<text x="490.80" y="633.00" font-size="4.8" text-anchor="middle" fill="#444">Z-score</text>
</svg>
</body></html>
